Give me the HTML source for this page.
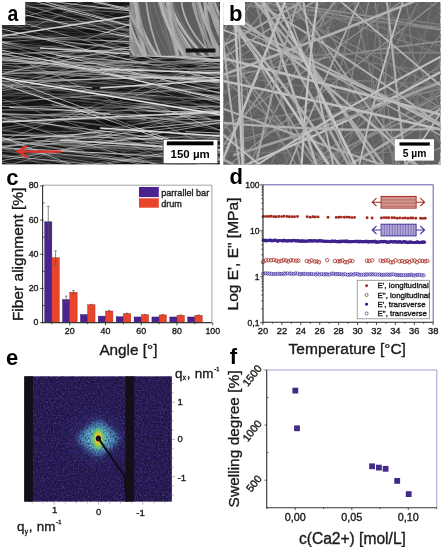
<!DOCTYPE html>
<html><head><meta charset="utf-8"><style>
html,body{margin:0;padding:0;background:#fff;width:443px;height:547px;overflow:hidden}
svg{display:block;position:absolute;left:0;top:0;will-change:transform}
text{font-family:"Liberation Sans",sans-serif}
text:not([font-weight]){stroke:#1a1a1a;stroke-width:0.35px}
</style></head><body>
<svg width="443" height="547" viewBox="0 0 443 547" font-family="Liberation Sans, sans-serif"><defs>
<clipPath id="cA"><rect x="2" y="2" width="218" height="162.6"/></clipPath>
<clipPath id="cI"><rect x="129.3" y="2" width="90.3" height="53.8"/></clipPath>
<clipPath id="cB"><rect x="223.2" y="2" width="217.4" height="162.8"/></clipPath>
<clipPath id="cE"><rect x="24.2" y="376.2" width="147.7" height="125.5"/></clipPath>
<filter id="soft" x="-0.05" y="-0.05" width="1.1" height="1.1"><feGaussianBlur stdDeviation="0.3"/></filter>
<filter id="soft2" x="-0.05" y="-0.05" width="1.1" height="1.1"><feGaussianBlur stdDeviation="0.6"/></filter>
<filter id="blur2" x="-0.5" y="-0.5" width="2" height="2"><feGaussianBlur stdDeviation="2.2"/></filter>
<filter id="blur1" x="-0.5" y="-0.5" width="2" height="2"><feGaussianBlur stdDeviation="1"/></filter>
<filter id="nz1" x="0" y="0" width="1" height="1" filterUnits="objectBoundingBox" color-interpolation-filters="sRGB">
<feTurbulence type="fractalNoise" baseFrequency="0.6" numOctaves="1" seed="3" result="n"/>
<feColorMatrix in="n" type="matrix" values="0 0 0 0 0.32  0 0 0 0 0.18  0 0 0 0 0.56  2.6 0 0 0 -1.15"/>
</filter>
<filter id="nz2" x="0" y="0" width="1" height="1" filterUnits="objectBoundingBox" color-interpolation-filters="sRGB">
<feTurbulence type="fractalNoise" baseFrequency="0.6" numOctaves="1" seed="17" result="n"/>
<feColorMatrix in="n" type="matrix" values="0 0 0 0 0.26  0 0 0 0 0.32  0 0 0 0 0.58  2.6 0 0 0 -1.5"/>
</filter>
<filter id="nz3" x="0" y="0" width="1" height="1" filterUnits="objectBoundingBox" color-interpolation-filters="sRGB">
<feTurbulence type="fractalNoise" baseFrequency="0.6" numOctaves="1" seed="29" result="n"/>
<feColorMatrix in="n" type="matrix" values="0 0 0 0 0.07  0 0 0 0 0.05  0 0 0 0 0.16  2.6 0 0 0 -1.05"/>
</filter>
<radialGradient id="halo" cx="0.5" cy="0.5" r="0.5">
<stop offset="0" stop-color="#80d4e0" stop-opacity="1"/>
<stop offset="0.45" stop-color="#66bcd8" stop-opacity="0.95"/>
<stop offset="0.8" stop-color="#4a8ac8" stop-opacity="0.7"/>
<stop offset="1" stop-color="#3a4aa0" stop-opacity="0.1"/>
</radialGradient>
<radialGradient id="glow" cx="0.5" cy="0.5" r="0.5">
<stop offset="0" stop-color="#4a6ab8" stop-opacity="0.55"/>
<stop offset="1" stop-color="#3a3a90" stop-opacity="0"/>
</radialGradient>
<radialGradient id="core" cx="0.5" cy="0.5" r="0.5">
<stop offset="0" stop-color="#e8e030"/>
<stop offset="0.45" stop-color="#a8d838"/>
<stop offset="0.75" stop-color="#58c070"/>
<stop offset="1" stop-color="#50b8b0" stop-opacity="0"/>
</radialGradient>
</defs>
<rect x="0" y="0" width="443" height="547" fill="#fff"/>
<g clip-path="url(#cA)">
<rect x="2" y="2" width="218" height="162.6" fill="#161616"/>
<g fill="none" filter="url(#soft2)"><path d="M73.3 24.1Q138.6 25.0 203.9 25.6" stroke="rgb(114,114,114)" stroke-width="1.04" stroke-opacity="0.59"/><path d="M36.8 35.7Q102.6 39.7 168.5 46.7" stroke="rgb(115,115,115)" stroke-width="1.06" stroke-opacity="0.82"/><path d="M-5.0 39.7Q110.0 65.9 225.0 90.3" stroke="rgb(118,118,118)" stroke-width="0.56" stroke-opacity="0.74"/><path d="M-5.0 83.8Q110.0 87.6 225.0 87.3" stroke="rgb(117,117,117)" stroke-width="0.88" stroke-opacity="0.62"/><path d="M75.7 124.8Q122.7 141.5 169.6 155.0" stroke="rgb(93,93,93)" stroke-width="0.61" stroke-opacity="0.62"/><path d="M-5.0 -20.3Q110.0 -14.3 225.0 -6.8" stroke="rgb(85,85,85)" stroke-width="0.87" stroke-opacity="0.69"/><path d="M-5.0 194.4Q110.0 193.7 225.0 194.9" stroke="rgb(85,85,85)" stroke-width="0.75" stroke-opacity="0.80"/><path d="M39.6 81.8Q96.1 62.6 152.6 46.7" stroke="rgb(103,103,103)" stroke-width="0.67" stroke-opacity="0.63"/><path d="M-5.0 73.3Q110.0 85.1 225.0 92.4" stroke="rgb(119,119,119)" stroke-width="1.17" stroke-opacity="0.79"/><path d="M178.9 11.3Q227.1 20.8 275.3 30.8" stroke="rgb(114,114,114)" stroke-width="0.71" stroke-opacity="0.58"/><path d="M-5.0 0.7Q110.0 1.4 225.0 5.4" stroke="rgb(88,88,88)" stroke-width="0.51" stroke-opacity="0.52"/><path d="M-5.0 146.3Q110.0 149.0 225.0 156.1" stroke="rgb(93,93,93)" stroke-width="0.65" stroke-opacity="0.52"/><path d="M90.7 -17.6Q117.5 -23.4 144.3 -32.0" stroke="rgb(124,124,124)" stroke-width="0.59" stroke-opacity="0.71"/><path d="M75.1 62.7Q89.7 64.5 104.3 63.0" stroke="rgb(93,93,93)" stroke-width="0.67" stroke-opacity="0.86"/><path d="M42.3 86.5Q66.7 86.4 91.2 90.9" stroke="rgb(82,82,82)" stroke-width="1.11" stroke-opacity="0.56"/><path d="M170.7 259.1Q220.8 279.9 270.9 304.9" stroke="rgb(113,113,113)" stroke-width="1.02" stroke-opacity="0.70"/><path d="M-5.0 17.5Q110.0 60.7 225.0 102.5" stroke="rgb(88,88,88)" stroke-width="0.96" stroke-opacity="0.82"/><path d="M-5.0 153.3Q110.0 169.0 225.0 188.8" stroke="rgb(84,84,84)" stroke-width="1.15" stroke-opacity="0.88"/><path d="M170.3 217.6Q190.1 219.2 210.0 224.1" stroke="rgb(123,123,123)" stroke-width="0.97" stroke-opacity="0.52"/><path d="M-5.0 112.9Q110.0 137.2 225.0 166.4" stroke="rgb(82,82,82)" stroke-width="0.50" stroke-opacity="0.87"/><path d="M-5.0 167.2Q110.0 180.6 225.0 192.2" stroke="rgb(100,100,100)" stroke-width="1.12" stroke-opacity="0.58"/><path d="M97.6 70.7Q111.7 76.1 125.7 77.8" stroke="rgb(71,71,71)" stroke-width="0.92" stroke-opacity="0.70"/><path d="M144.7 93.4Q187.2 87.5 229.8 85.8" stroke="rgb(70,70,70)" stroke-width="1.09" stroke-opacity="0.83"/><path d="M89.9 98.9Q158.0 105.6 226.0 108.4" stroke="rgb(75,75,75)" stroke-width="0.58" stroke-opacity="0.75"/><path d="M-5.0 85.3Q110.0 81.4 225.0 80.5" stroke="rgb(112,112,112)" stroke-width="0.55" stroke-opacity="0.85"/><path d="M-5.0 38.0Q110.0 32.0 225.0 29.4" stroke="rgb(79,79,79)" stroke-width="1.11" stroke-opacity="0.57"/><path d="M-5.0 81.2Q110.0 66.1 225.0 51.1" stroke="rgb(70,70,70)" stroke-width="0.72" stroke-opacity="0.72"/><path d="M42.9 131.2Q104.1 132.0 165.3 131.6" stroke="rgb(89,89,89)" stroke-width="1.04" stroke-opacity="0.89"/><path d="M-5.0 122.3Q110.0 109.4 225.0 92.9" stroke="rgb(95,95,95)" stroke-width="1.14" stroke-opacity="0.62"/><path d="M145.4 143.8Q178.7 141.3 212.0 142.4" stroke="rgb(106,106,106)" stroke-width="0.59" stroke-opacity="0.53"/><path d="M63.3 160.3Q111.5 164.6 159.7 172.1" stroke="rgb(75,75,75)" stroke-width="0.78" stroke-opacity="0.87"/><path d="M-0.5 117.2Q13.2 118.8 26.8 117.3" stroke="rgb(122,122,122)" stroke-width="1.08" stroke-opacity="0.82"/><path d="M177.9 178.0Q234.1 176.8 290.3 173.9" stroke="rgb(123,123,123)" stroke-width="0.58" stroke-opacity="0.76"/><path d="M175.9 193.2Q211.8 203.3 247.6 215.2" stroke="rgb(102,102,102)" stroke-width="1.13" stroke-opacity="0.78"/><path d="M-5.0 21.8Q110.0 21.4 225.0 22.0" stroke="rgb(124,124,124)" stroke-width="1.13" stroke-opacity="0.66"/><path d="M100.3 158.2Q152.7 160.9 205.1 162.4" stroke="rgb(103,103,103)" stroke-width="0.76" stroke-opacity="0.88"/><path d="M-5.0 5.1Q110.0 11.1 225.0 18.9" stroke="rgb(124,124,124)" stroke-width="1.14" stroke-opacity="0.74"/><path d="M-5.0 -9.4Q110.0 -0.4 225.0 10.7" stroke="rgb(112,112,112)" stroke-width="0.60" stroke-opacity="0.60"/><path d="M-5.0 183.3Q110.0 211.4 225.0 241.9" stroke="rgb(107,107,107)" stroke-width="0.88" stroke-opacity="0.88"/><path d="M18.7 89.7Q34.8 91.8 50.8 91.9" stroke="rgb(124,124,124)" stroke-width="0.70" stroke-opacity="0.86"/><path d="M-5.0 134.5Q110.0 183.9 225.0 231.1" stroke="rgb(109,109,109)" stroke-width="0.89" stroke-opacity="0.78"/><path d="M-5.0 94.3Q110.0 65.9 225.0 33.7" stroke="rgb(96,96,96)" stroke-width="0.55" stroke-opacity="0.57"/><path d="M-5.0 27.6Q110.0 34.7 225.0 42.6" stroke="rgb(117,117,117)" stroke-width="0.73" stroke-opacity="0.65"/><path d="M-5.0 -23.7Q110.0 -66.5 225.0 -112.5" stroke="rgb(78,78,78)" stroke-width="0.61" stroke-opacity="0.84"/><path d="M-5.0 22.2Q110.0 24.0 225.0 23.8" stroke="rgb(80,80,80)" stroke-width="1.08" stroke-opacity="0.90"/><path d="M-5.0 177.3Q110.0 169.5 225.0 160.5" stroke="rgb(115,115,115)" stroke-width="0.91" stroke-opacity="0.54"/><path d="M-5.0 175.1Q110.0 170.0 225.0 161.3" stroke="rgb(72,72,72)" stroke-width="0.94" stroke-opacity="0.60"/><path d="M-5.0 118.9Q110.0 109.8 225.0 96.8" stroke="rgb(104,104,104)" stroke-width="0.74" stroke-opacity="0.83"/><path d="M-5.0 171.0Q110.0 188.3 225.0 207.2" stroke="rgb(103,103,103)" stroke-width="0.87" stroke-opacity="0.89"/><path d="M111.6 -8.8Q138.5 -6.1 165.3 -7.5" stroke="rgb(81,81,81)" stroke-width="0.55" stroke-opacity="0.81"/><path d="M-4.8 126.8Q56.2 141.2 117.2 153.4" stroke="rgb(104,104,104)" stroke-width="0.94" stroke-opacity="0.51"/><path d="M65.2 -20.2Q128.9 -18.8 192.5 -16.3" stroke="rgb(111,111,111)" stroke-width="1.07" stroke-opacity="0.62"/><path d="M-5.0 106.1Q110.0 90.2 225.0 71.4" stroke="rgb(117,117,117)" stroke-width="0.71" stroke-opacity="0.78"/><path d="M-1.5 129.2Q62.0 140.0 125.5 151.8" stroke="rgb(121,121,121)" stroke-width="0.69" stroke-opacity="0.80"/><path d="M-5.0 111.2Q110.0 96.1 225.0 83.3" stroke="rgb(84,84,84)" stroke-width="0.86" stroke-opacity="0.51"/><path d="M-5.0 34.6Q110.0 0.1 225.0 -30.4" stroke="rgb(74,74,74)" stroke-width="1.19" stroke-opacity="0.57"/><path d="M-5.0 17.6Q110.0 36.5 225.0 55.8" stroke="rgb(97,97,97)" stroke-width="0.58" stroke-opacity="0.64"/><path d="M184.4 203.9Q214.0 203.5 243.5 207.4" stroke="rgb(101,101,101)" stroke-width="0.96" stroke-opacity="0.86"/><path d="M-5.0 160.5Q110.0 184.8 225.0 212.0" stroke="rgb(71,71,71)" stroke-width="1.04" stroke-opacity="0.57"/><path d="M-5.0 -22.2Q110.0 -31.1 225.0 -37.1" stroke="rgb(90,90,90)" stroke-width="1.19" stroke-opacity="0.57"/><path d="M-5.0 185.1Q110.0 206.6 225.0 226.3" stroke="rgb(73,73,73)" stroke-width="1.13" stroke-opacity="0.78"/><path d="M21.9 167.2Q61.9 179.6 101.9 189.5" stroke="rgb(100,100,100)" stroke-width="0.88" stroke-opacity="0.64"/><path d="M37.8 142.9Q64.0 132.5 90.2 123.6" stroke="rgb(101,101,101)" stroke-width="0.64" stroke-opacity="0.75"/><path d="M62.9 79.8Q131.8 109.8 200.8 136.6" stroke="rgb(81,81,81)" stroke-width="0.52" stroke-opacity="0.58"/><path d="M54.7 136.0Q108.6 137.1 162.4 138.6" stroke="rgb(91,91,91)" stroke-width="0.60" stroke-opacity="0.65"/><path d="M-5.0 50.1Q110.0 56.7 225.0 65.4" stroke="rgb(110,110,110)" stroke-width="0.79" stroke-opacity="0.55"/><path d="M-5.0 95.6Q110.0 97.4 225.0 98.2" stroke="rgb(98,98,98)" stroke-width="0.63" stroke-opacity="0.75"/><path d="M151.1 45.2Q171.5 37.0 192.0 29.5" stroke="rgb(72,72,72)" stroke-width="0.63" stroke-opacity="0.61"/><path d="M126.8 7.9Q170.6 -3.9 214.4 -14.0" stroke="rgb(122,122,122)" stroke-width="1.16" stroke-opacity="0.60"/><path d="M-5.0 91.0Q110.0 83.2 225.0 71.6" stroke="rgb(80,80,80)" stroke-width="0.83" stroke-opacity="0.55"/><path d="M-5.0 104.0Q110.0 74.5 225.0 41.3" stroke="rgb(102,102,102)" stroke-width="0.54" stroke-opacity="0.83"/><path d="M-5.0 -11.9Q110.0 18.6 225.0 49.3" stroke="rgb(99,99,99)" stroke-width="0.68" stroke-opacity="0.52"/><path d="M50.1 168.6Q102.3 171.8 154.5 175.8" stroke="rgb(122,122,122)" stroke-width="1.12" stroke-opacity="0.62"/><path d="M-5.0 -29.4Q110.0 7.8 225.0 45.8" stroke="rgb(73,73,73)" stroke-width="0.80" stroke-opacity="0.53"/><path d="M-5.0 175.4Q110.0 198.3 225.0 216.2" stroke="rgb(81,81,81)" stroke-width="1.14" stroke-opacity="0.87"/><path d="M95.9 -40.5Q132.8 -44.6 169.7 -49.9" stroke="rgb(75,75,75)" stroke-width="0.95" stroke-opacity="0.77"/><path d="M80.1 100.5Q100.4 103.5 120.7 108.0" stroke="rgb(75,75,75)" stroke-width="1.03" stroke-opacity="0.63"/><path d="M-5.0 32.3Q110.0 -0.3 225.0 -35.5" stroke="rgb(73,73,73)" stroke-width="1.17" stroke-opacity="0.56"/><path d="M-5.0 92.7Q110.0 96.2 225.0 98.4" stroke="rgb(98,98,98)" stroke-width="0.88" stroke-opacity="0.60"/><path d="M-5.0 8.4Q110.0 21.9 225.0 38.4" stroke="rgb(99,99,99)" stroke-width="0.91" stroke-opacity="0.73"/><path d="M-5.0 185.5Q110.0 209.2 225.0 234.8" stroke="rgb(94,94,94)" stroke-width="0.73" stroke-opacity="0.62"/><path d="M66.9 43.1Q117.5 46.2 168.2 51.0" stroke="rgb(87,87,87)" stroke-width="1.10" stroke-opacity="0.82"/><path d="M189.0 187.0Q203.4 189.9 217.8 191.3" stroke="rgb(70,70,70)" stroke-width="1.11" stroke-opacity="0.50"/><path d="M42.2 97.8Q80.0 101.5 117.9 102.3" stroke="rgb(110,110,110)" stroke-width="0.70" stroke-opacity="0.54"/><path d="M188.7 47.4Q226.2 57.4 263.7 69.0" stroke="rgb(110,110,110)" stroke-width="0.89" stroke-opacity="0.89"/><path d="M143.1 -11.1Q188.5 -28.3 233.9 -47.8" stroke="rgb(96,96,96)" stroke-width="1.16" stroke-opacity="0.67"/><path d="M50.8 58.7Q70.5 60.7 90.3 58.9" stroke="rgb(95,95,95)" stroke-width="1.02" stroke-opacity="0.80"/><path d="M173.2 105.6Q191.6 113.9 210.0 118.9" stroke="rgb(120,120,120)" stroke-width="1.12" stroke-opacity="0.89"/><path d="M-5.0 129.9Q110.0 142.6 225.0 151.0" stroke="rgb(118,118,118)" stroke-width="0.90" stroke-opacity="0.75"/><path d="M-5.0 34.1Q110.0 60.5 225.0 87.1" stroke="rgb(107,107,107)" stroke-width="0.67" stroke-opacity="0.57"/><path d="M76.5 174.9Q137.5 181.5 198.6 186.1" stroke="rgb(76,76,76)" stroke-width="1.11" stroke-opacity="0.50"/><path d="M65.2 145.2Q92.9 149.0 120.7 147.9" stroke="rgb(109,109,109)" stroke-width="0.89" stroke-opacity="0.76"/><path d="M-5.0 144.0Q110.0 195.5 225.0 244.4" stroke="rgb(110,110,110)" stroke-width="0.74" stroke-opacity="0.70"/><path d="M-5.0 147.0Q110.0 174.1 225.0 199.6" stroke="rgb(83,83,83)" stroke-width="0.94" stroke-opacity="0.57"/><path d="M-5.0 9.6Q110.0 9.1 225.0 5.4" stroke="rgb(117,117,117)" stroke-width="0.71" stroke-opacity="0.52"/><path d="M48.4 150.0Q64.2 152.6 79.9 153.8" stroke="rgb(73,73,73)" stroke-width="0.81" stroke-opacity="0.79"/><path d="M-5.0 20.6Q110.0 -17.6 225.0 -58.8" stroke="rgb(79,79,79)" stroke-width="0.50" stroke-opacity="0.58"/><path d="M63.1 12.6Q108.6 7.3 154.1 3.5" stroke="rgb(101,101,101)" stroke-width="1.00" stroke-opacity="0.87"/><path d="M-5.0 112.9Q110.0 118.3 225.0 124.9" stroke="rgb(88,88,88)" stroke-width="1.00" stroke-opacity="0.85"/><path d="M70.5 23.5Q87.1 26.7 103.6 26.5" stroke="rgb(116,116,116)" stroke-width="0.95" stroke-opacity="0.85"/><path d="M154.7 164.5Q219.9 177.1 285.2 190.1" stroke="rgb(75,75,75)" stroke-width="0.60" stroke-opacity="0.57"/><path d="M105.3 200.7Q132.0 209.0 158.7 218.3" stroke="rgb(105,105,105)" stroke-width="0.69" stroke-opacity="0.50"/><path d="M-5.0 96.8Q110.0 81.7 225.0 62.3" stroke="rgb(114,114,114)" stroke-width="0.61" stroke-opacity="0.81"/><path d="M121.9 178.4Q169.7 173.2 217.4 172.3" stroke="rgb(80,80,80)" stroke-width="1.12" stroke-opacity="0.72"/><path d="M49.3 39.7Q109.4 41.0 169.5 41.5" stroke="rgb(112,112,112)" stroke-width="0.63" stroke-opacity="0.82"/><path d="M111.8 -15.7Q133.6 -23.4 155.5 -33.1" stroke="rgb(97,97,97)" stroke-width="1.12" stroke-opacity="0.64"/><path d="M144.1 77.1Q175.8 90.6 207.5 104.4" stroke="rgb(71,71,71)" stroke-width="0.65" stroke-opacity="0.79"/><path d="M66.2 93.6Q108.3 98.2 150.3 98.8" stroke="rgb(115,115,115)" stroke-width="0.81" stroke-opacity="0.63"/><path d="M45.7 139.7Q64.7 147.2 83.6 150.5" stroke="rgb(106,106,106)" stroke-width="1.02" stroke-opacity="0.86"/><path d="M101.4 92.7Q148.5 95.3 195.6 101.1" stroke="rgb(103,103,103)" stroke-width="0.61" stroke-opacity="0.70"/><path d="M117.2 61.8Q152.7 62.4 188.1 64.9" stroke="rgb(79,79,79)" stroke-width="0.83" stroke-opacity="0.77"/><path d="M-5.0 31.2Q110.0 37.9 225.0 41.4" stroke="rgb(73,73,73)" stroke-width="1.12" stroke-opacity="0.58"/><path d="M146.3 -17.8Q203.2 -16.5 260.0 -14.4" stroke="rgb(76,76,76)" stroke-width="0.54" stroke-opacity="0.79"/><path d="M20.1 53.3Q59.7 54.4 99.3 51.3" stroke="rgb(124,124,124)" stroke-width="1.04" stroke-opacity="0.79"/><path d="M-5.0 70.0Q110.0 86.5 225.0 101.8" stroke="rgb(75,75,75)" stroke-width="1.04" stroke-opacity="0.56"/><path d="M-5.0 85.6Q110.0 44.8 225.0 6.2" stroke="rgb(115,115,115)" stroke-width="0.53" stroke-opacity="0.77"/><path d="M92.4 98.4Q161.3 70.3 230.2 43.1" stroke="rgb(120,120,120)" stroke-width="0.52" stroke-opacity="0.55"/><path d="M-5.0 150.9Q110.0 158.0 225.0 167.5" stroke="rgb(115,115,115)" stroke-width="1.11" stroke-opacity="0.75"/><path d="M-0.7 137.0Q31.4 150.2 63.6 162.4" stroke="rgb(84,84,84)" stroke-width="0.77" stroke-opacity="0.52"/><path d="M162.8 90.5Q191.2 96.0 219.6 98.7" stroke="rgb(119,119,119)" stroke-width="0.59" stroke-opacity="0.66"/><path d="M-5.0 87.3Q110.0 100.2 225.0 115.1" stroke="rgb(79,79,79)" stroke-width="1.10" stroke-opacity="0.71"/><path d="M121.6 47.3Q183.5 47.6 245.4 46.0" stroke="rgb(108,108,108)" stroke-width="0.71" stroke-opacity="0.77"/><path d="M142.5 171.8Q174.3 173.0 206.0 170.7" stroke="rgb(87,87,87)" stroke-width="0.93" stroke-opacity="0.65"/><path d="M-5.0 48.1Q110.0 44.4 225.0 39.2" stroke="rgb(121,121,121)" stroke-width="0.80" stroke-opacity="0.68"/><path d="M-5.0 83.6Q110.0 79.2 225.0 70.9" stroke="rgb(119,119,119)" stroke-width="1.05" stroke-opacity="0.80"/><path d="M91.5 6.1Q113.1 0.8 134.7 -3.5" stroke="rgb(84,84,84)" stroke-width="0.92" stroke-opacity="0.56"/><path d="M86.3 22.3Q108.1 15.3 129.9 7.8" stroke="rgb(89,89,89)" stroke-width="0.75" stroke-opacity="0.64"/><path d="M113.8 92.5Q154.2 93.4 194.6 90.7" stroke="rgb(76,76,76)" stroke-width="0.96" stroke-opacity="0.66"/><path d="M-5.0 -0.3Q110.0 -14.1 225.0 -32.2" stroke="rgb(114,114,114)" stroke-width="0.95" stroke-opacity="0.73"/><path d="M-5.0 20.9Q110.0 18.3 225.0 15.4" stroke="rgb(77,77,77)" stroke-width="0.52" stroke-opacity="0.56"/><path d="M-5.0 24.1Q110.0 -4.5 225.0 -36.4" stroke="rgb(119,119,119)" stroke-width="0.99" stroke-opacity="0.87"/><path d="M137.1 160.0Q191.6 160.1 246.1 157.7" stroke="rgb(81,81,81)" stroke-width="0.62" stroke-opacity="0.53"/><path d="M21.9 156.4Q91.3 158.0 160.7 163.0" stroke="rgb(73,73,73)" stroke-width="0.90" stroke-opacity="0.85"/><path d="M170.0 122.0Q211.2 122.4 252.5 121.2" stroke="rgb(124,124,124)" stroke-width="0.92" stroke-opacity="0.88"/><path d="M-5.0 -17.0Q110.0 -20.4 225.0 -22.5" stroke="rgb(106,106,106)" stroke-width="1.05" stroke-opacity="0.84"/><path d="M176.3 65.6Q220.8 50.2 265.3 34.7" stroke="rgb(113,113,113)" stroke-width="0.55" stroke-opacity="0.67"/><path d="M96.1 96.8Q147.3 99.5 198.6 98.6" stroke="rgb(101,101,101)" stroke-width="0.78" stroke-opacity="0.61"/><path d="M-5.0 49.7Q110.0 32.9 225.0 12.3" stroke="rgb(81,81,81)" stroke-width="0.79" stroke-opacity="0.65"/><path d="M30.1 136.7Q49.3 135.7 68.5 138.9" stroke="rgb(109,109,109)" stroke-width="0.96" stroke-opacity="0.82"/><path d="M39.8 87.0Q65.5 90.4 91.2 97.2" stroke="rgb(100,100,100)" stroke-width="0.61" stroke-opacity="0.82"/><path d="M147.8 4.2Q192.6 -5.5 237.5 -11.0" stroke="rgb(114,114,114)" stroke-width="1.11" stroke-opacity="0.89"/><path d="M175.9 60.6Q192.5 60.8 209.0 61.0" stroke="rgb(94,94,94)" stroke-width="0.94" stroke-opacity="0.81"/><path d="M32.5 180.9Q55.9 186.1 79.3 191.5" stroke="rgb(96,96,96)" stroke-width="1.01" stroke-opacity="0.58"/><path d="M-5.0 67.4Q110.0 68.0 225.0 72.1" stroke="rgb(82,82,82)" stroke-width="1.13" stroke-opacity="0.51"/><path d="M-5.0 112.8Q110.0 118.8 225.0 123.9" stroke="rgb(89,89,89)" stroke-width="0.96" stroke-opacity="0.66"/><path d="M-5.0 130.7Q110.0 136.4 225.0 145.4" stroke="rgb(73,73,73)" stroke-width="0.80" stroke-opacity="0.57"/><path d="M-5.0 76.3Q110.0 41.7 225.0 9.9" stroke="rgb(116,116,116)" stroke-width="1.18" stroke-opacity="0.80"/><path d="M-5.0 131.4Q110.0 112.4 225.0 94.4" stroke="rgb(88,88,88)" stroke-width="1.09" stroke-opacity="0.85"/><path d="M165.9 -44.2Q192.1 -52.5 218.2 -57.8" stroke="rgb(84,84,84)" stroke-width="0.77" stroke-opacity="0.79"/><path d="M140.6 25.0Q189.8 18.5 239.1 14.1" stroke="rgb(102,102,102)" stroke-width="1.13" stroke-opacity="0.51"/><path d="M-5.0 112.8Q110.0 125.7 225.0 139.1" stroke="rgb(110,110,110)" stroke-width="0.97" stroke-opacity="0.88"/><path d="M-5.0 45.9Q110.0 51.7 225.0 55.8" stroke="rgb(115,115,115)" stroke-width="0.94" stroke-opacity="0.82"/><path d="M20.2 147.6Q67.6 151.1 115.0 157.5" stroke="rgb(82,82,82)" stroke-width="0.75" stroke-opacity="0.72"/><path d="M156.4 15.4Q182.9 15.5 209.4 13.2" stroke="rgb(84,84,84)" stroke-width="0.59" stroke-opacity="0.74"/><path d="M13.3 4.9Q71.1 -18.8 128.8 -40.6" stroke="rgb(74,74,74)" stroke-width="1.01" stroke-opacity="0.58"/><path d="M-5.0 -7.6Q110.0 -16.4 225.0 -26.0" stroke="rgb(108,108,108)" stroke-width="0.89" stroke-opacity="0.68"/><path d="M189.7 60.3Q241.8 48.2 293.8 38.9" stroke="rgb(104,104,104)" stroke-width="0.83" stroke-opacity="0.51"/><path d="M5.9 150.2Q22.2 150.1 38.5 149.3" stroke="rgb(109,109,109)" stroke-width="0.67" stroke-opacity="0.70"/><path d="M142.3 139.7Q193.0 141.1 243.8 138.7" stroke="rgb(96,96,96)" stroke-width="0.95" stroke-opacity="0.81"/><path d="M-5.0 89.2Q110.0 105.0 225.0 121.9" stroke="rgb(94,94,94)" stroke-width="0.99" stroke-opacity="0.59"/><path d="M14.4 64.0Q48.1 77.8 81.9 93.2" stroke="rgb(117,117,117)" stroke-width="1.20" stroke-opacity="0.52"/><path d="M184.9 92.9Q239.5 98.3 294.2 101.9" stroke="rgb(119,119,119)" stroke-width="1.07" stroke-opacity="0.89"/><path d="M-5.0 145.6Q110.0 165.7 225.0 185.7" stroke="rgb(122,122,122)" stroke-width="1.13" stroke-opacity="0.77"/><path d="M-5.0 63.9Q110.0 78.9 225.0 97.8" stroke="rgb(106,106,106)" stroke-width="1.06" stroke-opacity="0.77"/><path d="M94.9 89.3Q158.8 100.7 222.6 112.9" stroke="rgb(99,99,99)" stroke-width="0.99" stroke-opacity="0.64"/><path d="M-5.0 142.5Q110.0 146.0 225.0 148.5" stroke="rgb(116,116,116)" stroke-width="1.20" stroke-opacity="0.71"/><path d="M20.8 202.5Q80.9 224.5 140.9 243.5" stroke="rgb(75,75,75)" stroke-width="1.00" stroke-opacity="0.62"/><path d="M189.8 116.1Q234.3 114.9 278.8 117.0" stroke="rgb(122,122,122)" stroke-width="0.58" stroke-opacity="0.51"/><path d="M162.0 -5.9Q192.0 -14.1 222.0 -23.1" stroke="rgb(86,86,86)" stroke-width="0.65" stroke-opacity="0.52"/><path d="M-5.0 96.4Q110.0 92.4 225.0 86.5" stroke="rgb(83,83,83)" stroke-width="0.66" stroke-opacity="0.85"/><path d="M69.0 141.5Q120.6 143.2 172.2 142.9" stroke="rgb(122,122,122)" stroke-width="0.84" stroke-opacity="0.68"/><path d="M160.3 117.2Q192.6 125.6 224.8 131.1" stroke="rgb(118,118,118)" stroke-width="1.07" stroke-opacity="0.59"/><path d="M-5.0 -20.5Q110.0 11.6 225.0 39.7" stroke="rgb(85,85,85)" stroke-width="0.75" stroke-opacity="0.57"/><path d="M178.7 106.4Q245.0 106.7 311.3 108.8" stroke="rgb(110,110,110)" stroke-width="0.96" stroke-opacity="0.86"/><path d="M-5.0 41.9Q110.0 63.0 225.0 81.3" stroke="rgb(109,109,109)" stroke-width="0.78" stroke-opacity="0.55"/><path d="M-5.0 165.8Q110.0 151.5 225.0 137.4" stroke="rgb(80,80,80)" stroke-width="0.64" stroke-opacity="0.73"/><path d="M-5.0 140.9Q110.0 148.9 225.0 158.2" stroke="rgb(85,85,85)" stroke-width="0.85" stroke-opacity="0.51"/><path d="M163.8 44.9Q229.2 29.6 294.7 14.7" stroke="rgb(97,97,97)" stroke-width="0.86" stroke-opacity="0.85"/><path d="M7.8 72.1Q47.0 73.6 86.1 76.4" stroke="rgb(112,112,112)" stroke-width="1.11" stroke-opacity="0.55"/><path d="M158.8 145.2Q188.3 140.5 217.8 137.8" stroke="rgb(106,106,106)" stroke-width="1.15" stroke-opacity="0.60"/><path d="M107.4 111.9Q144.7 118.1 182.0 121.1" stroke="rgb(110,110,110)" stroke-width="0.97" stroke-opacity="0.73"/><path d="M-5.0 2.2Q110.0 8.7 225.0 11.6" stroke="rgb(116,116,116)" stroke-width="1.13" stroke-opacity="0.66"/><path d="M-5.0 180.2Q110.0 217.1 225.0 253.7" stroke="rgb(70,70,70)" stroke-width="0.73" stroke-opacity="0.60"/><path d="M-5.0 96.7Q110.0 77.1 225.0 57.0" stroke="rgb(78,78,78)" stroke-width="1.05" stroke-opacity="0.63"/><path d="M123.7 122.5Q151.1 123.8 178.6 128.3" stroke="rgb(75,75,75)" stroke-width="0.92" stroke-opacity="0.60"/><path d="M18.0 24.2Q43.1 25.8 68.2 24.3" stroke="rgb(103,103,103)" stroke-width="0.78" stroke-opacity="0.57"/><path d="M88.4 108.0Q116.1 110.6 143.9 116.9" stroke="rgb(116,116,116)" stroke-width="1.05" stroke-opacity="0.53"/><path d="M22.1 118.0Q61.5 113.3 101.0 107.9" stroke="rgb(101,101,101)" stroke-width="1.15" stroke-opacity="0.74"/><path d="M-5.0 -21.4Q110.0 -11.3 225.0 -3.5" stroke="rgb(87,87,87)" stroke-width="1.16" stroke-opacity="0.78"/><path d="M-5.0 190.0Q110.0 155.0 225.0 124.4" stroke="rgb(99,99,99)" stroke-width="0.92" stroke-opacity="0.51"/><path d="M-5.0 149.1Q110.0 153.4 225.0 156.7" stroke="rgb(122,122,122)" stroke-width="0.88" stroke-opacity="0.74"/><path d="M76.1 128.0Q111.1 145.0 146.2 159.7" stroke="rgb(74,74,74)" stroke-width="0.61" stroke-opacity="0.57"/><path d="M189.9 97.0Q216.8 108.4 243.6 120.8" stroke="rgb(89,89,89)" stroke-width="0.60" stroke-opacity="0.56"/><path d="M9.8 141.2Q41.3 135.6 72.8 128.4" stroke="rgb(100,100,100)" stroke-width="0.50" stroke-opacity="0.54"/><path d="M-5.0 22.5Q110.0 29.2 225.0 37.5" stroke="rgb(72,72,72)" stroke-width="1.10" stroke-opacity="0.69"/><path d="M57.6 15.1Q80.4 15.8 103.2 13.2" stroke="rgb(86,86,86)" stroke-width="0.68" stroke-opacity="0.80"/><path d="M179.1 148.1Q218.1 148.7 257.2 149.7" stroke="rgb(101,101,101)" stroke-width="0.54" stroke-opacity="0.81"/><path d="M80.0 25.4Q112.0 27.3 144.0 30.4" stroke="rgb(79,79,79)" stroke-width="1.08" stroke-opacity="0.71"/><path d="M64.5 120.6Q104.7 126.4 144.9 131.1" stroke="rgb(117,117,117)" stroke-width="0.81" stroke-opacity="0.66"/><path d="M9.4 144.4Q24.8 145.8 40.2 144.9" stroke="rgb(91,91,91)" stroke-width="0.66" stroke-opacity="0.73"/><path d="M155.8 49.6Q200.2 41.4 244.7 37.5" stroke="rgb(81,81,81)" stroke-width="0.75" stroke-opacity="0.85"/><path d="M-5.0 162.1Q110.0 159.0 225.0 156.9" stroke="rgb(99,99,99)" stroke-width="0.59" stroke-opacity="0.61"/><path d="M108.2 141.6Q165.1 160.2 222.1 177.9" stroke="rgb(80,80,80)" stroke-width="1.07" stroke-opacity="0.60"/><path d="M45.8 98.8Q113.8 120.1 181.7 143.2" stroke="rgb(104,104,104)" stroke-width="1.13" stroke-opacity="0.59"/><path d="M81.7 104.2Q138.4 108.2 195.1 108.2" stroke="rgb(118,118,118)" stroke-width="0.56" stroke-opacity="0.66"/><path d="M76.5 114.6Q117.9 103.8 159.3 93.7" stroke="rgb(97,97,97)" stroke-width="0.56" stroke-opacity="0.82"/><path d="M108.5 -0.9Q122.2 -0.4 135.8 -4.2" stroke="rgb(120,120,120)" stroke-width="0.90" stroke-opacity="0.61"/><path d="M106.1 106.1Q156.5 108.7 207.0 110.9" stroke="rgb(122,122,122)" stroke-width="1.07" stroke-opacity="0.57"/><path d="M-5.0 -7.0Q110.0 -13.2 225.0 -14.8" stroke="rgb(73,73,73)" stroke-width="0.85" stroke-opacity="0.67"/><path d="M-5.0 118.4Q110.0 145.0 225.0 172.0" stroke="rgb(75,75,75)" stroke-width="0.95" stroke-opacity="0.73"/><path d="M118.6 153.5Q180.0 157.3 241.5 156.4" stroke="rgb(90,90,90)" stroke-width="0.94" stroke-opacity="0.56"/><path d="M10.7 189.0Q65.1 183.6 119.5 181.1" stroke="rgb(97,97,97)" stroke-width="0.74" stroke-opacity="0.52"/><path d="M120.3 140.7Q154.7 137.8 189.1 133.5" stroke="rgb(111,111,111)" stroke-width="1.01" stroke-opacity="0.51"/><path d="M-5.0 -23.9Q110.0 22.3 225.0 66.5" stroke="rgb(86,86,86)" stroke-width="1.15" stroke-opacity="0.57"/><path d="M-5.0 142.1Q110.0 145.8 225.0 152.8" stroke="rgb(79,79,79)" stroke-width="0.82" stroke-opacity="0.86"/><path d="M112.8 190.2Q133.8 196.2 154.7 201.8" stroke="rgb(85,85,85)" stroke-width="1.07" stroke-opacity="0.55"/><path d="M167.1 13.7Q217.0 21.8 267.0 28.0" stroke="rgb(105,105,105)" stroke-width="0.55" stroke-opacity="0.83"/><path d="M-5.0 56.5Q110.0 74.4 225.0 93.7" stroke="rgb(82,82,82)" stroke-width="1.05" stroke-opacity="0.73"/><path d="M70.6 61.2Q122.9 56.4 175.2 47.7" stroke="rgb(123,123,123)" stroke-width="0.63" stroke-opacity="0.72"/><path d="M132.7 100.3Q178.1 102.5 223.5 104.2" stroke="rgb(74,74,74)" stroke-width="0.57" stroke-opacity="0.62"/></g>
<g fill="none" filter="url(#soft)"><path d="M-5.0 68.9Q110.0 74.6 225.0 81.7" stroke="rgb(187,187,187)" stroke-width="0.73" stroke-opacity="0.88"/><path d="M107.5 163.3Q126.5 167.3 145.6 169.8" stroke="rgb(154,154,154)" stroke-width="0.82" stroke-opacity="0.82"/><path d="M-5.0 161.0Q110.0 182.3 225.0 206.7" stroke="rgb(180,180,180)" stroke-width="0.49" stroke-opacity="0.91"/><path d="M-5.0 -17.0Q110.0 4.8 225.0 26.7" stroke="rgb(160,160,160)" stroke-width="0.88" stroke-opacity="0.70"/><path d="M157.5 115.2Q207.6 111.4 257.7 110.8" stroke="rgb(233,233,233)" stroke-width="0.48" stroke-opacity="0.91"/><path d="M-5.0 42.7Q110.0 72.2 225.0 104.6" stroke="rgb(200,200,200)" stroke-width="0.77" stroke-opacity="0.84"/><path d="M-5.0 53.5Q110.0 70.0 225.0 82.4" stroke="rgb(150,150,150)" stroke-width="0.65" stroke-opacity="0.97"/><path d="M-5.0 -1.8Q110.0 42.9 225.0 87.1" stroke="rgb(171,171,171)" stroke-width="0.73" stroke-opacity="0.66"/><path d="M127.3 7.0Q159.9 11.7 192.5 14.2" stroke="rgb(234,234,234)" stroke-width="0.95" stroke-opacity="0.66"/><path d="M129.6 144.4Q188.4 150.6 247.2 152.3" stroke="rgb(244,244,244)" stroke-width="0.79" stroke-opacity="0.89"/><path d="M145.5 184.1Q188.0 183.4 230.5 186.2" stroke="rgb(158,158,158)" stroke-width="1.00" stroke-opacity="0.76"/><path d="M181.8 62.6Q212.0 67.5 242.2 68.2" stroke="rgb(212,212,212)" stroke-width="0.67" stroke-opacity="0.74"/><path d="M-5.0 134.7Q110.0 137.5 225.0 141.0" stroke="rgb(227,227,227)" stroke-width="0.97" stroke-opacity="0.77"/><path d="M-5.0 172.7Q110.0 168.0 225.0 166.5" stroke="rgb(201,201,201)" stroke-width="0.50" stroke-opacity="1.00"/><path d="M40.5 108.1Q76.6 112.8 112.8 118.6" stroke="rgb(154,154,154)" stroke-width="0.51" stroke-opacity="0.81"/><path d="M-5.0 -17.8Q110.0 -10.0 225.0 0.5" stroke="rgb(237,237,237)" stroke-width="0.99" stroke-opacity="0.79"/><path d="M-5.0 112.0Q110.0 136.0 225.0 164.0" stroke="rgb(171,171,171)" stroke-width="0.80" stroke-opacity="0.85"/><path d="M-5.0 134.6Q110.0 134.4 225.0 138.4" stroke="rgb(161,161,161)" stroke-width="0.58" stroke-opacity="0.87"/><path d="M131.5 22.8Q155.9 16.2 180.2 9.3" stroke="rgb(180,180,180)" stroke-width="0.76" stroke-opacity="0.94"/><path d="M169.4 152.8Q207.1 148.4 244.7 148.9" stroke="rgb(163,163,163)" stroke-width="0.79" stroke-opacity="0.78"/><path d="M-5.0 38.2Q110.0 36.6 225.0 36.1" stroke="rgb(154,154,154)" stroke-width="0.63" stroke-opacity="0.61"/><path d="M56.2 55.3Q116.6 60.1 177.1 67.3" stroke="rgb(240,240,240)" stroke-width="0.77" stroke-opacity="0.83"/><path d="M-5.0 184.1Q110.0 175.9 225.0 171.6" stroke="rgb(242,242,242)" stroke-width="0.81" stroke-opacity="0.65"/><path d="M146.9 110.9Q186.1 110.8 225.4 114.7" stroke="rgb(249,249,249)" stroke-width="0.73" stroke-opacity="0.74"/><path d="M-5.0 71.3Q110.0 75.8 225.0 77.9" stroke="rgb(197,197,197)" stroke-width="0.70" stroke-opacity="0.64"/><path d="M-5.0 42.5Q110.0 33.8 225.0 28.5" stroke="rgb(204,204,204)" stroke-width="0.56" stroke-opacity="0.87"/><path d="M-5.0 174.6Q110.0 225.2 225.0 278.6" stroke="rgb(185,185,185)" stroke-width="0.79" stroke-opacity="0.91"/><path d="M-5.0 113.5Q110.0 118.7 225.0 120.2" stroke="rgb(183,183,183)" stroke-width="0.79" stroke-opacity="0.81"/><path d="M-5.0 134.4Q110.0 179.0 225.0 226.7" stroke="rgb(164,164,164)" stroke-width="0.97" stroke-opacity="0.95"/><path d="M145.3 86.5Q207.9 107.5 270.5 131.2" stroke="rgb(194,194,194)" stroke-width="0.59" stroke-opacity="0.70"/><path d="M-5.0 161.7Q110.0 142.2 225.0 121.7" stroke="rgb(231,231,231)" stroke-width="0.61" stroke-opacity="0.96"/><path d="M33.2 -12.6Q81.7 -8.6 130.3 -5.3" stroke="rgb(192,192,192)" stroke-width="1.02" stroke-opacity="0.78"/><path d="M-5.0 172.7Q110.0 169.1 225.0 168.0" stroke="rgb(233,233,233)" stroke-width="0.49" stroke-opacity="0.92"/><path d="M-5.0 41.0Q110.0 66.3 225.0 94.2" stroke="rgb(234,234,234)" stroke-width="0.85" stroke-opacity="0.88"/><path d="M71.5 136.1Q122.2 143.0 172.9 147.5" stroke="rgb(214,214,214)" stroke-width="0.58" stroke-opacity="0.68"/><path d="M-0.2 -8.3Q67.9 11.1 135.9 27.3" stroke="rgb(232,232,232)" stroke-width="0.88" stroke-opacity="0.90"/><path d="M-5.0 77.1Q110.0 126.1 225.0 174.7" stroke="rgb(223,223,223)" stroke-width="0.48" stroke-opacity="0.67"/><path d="M-5.0 146.3Q110.0 141.4 225.0 134.4" stroke="rgb(240,240,240)" stroke-width="0.47" stroke-opacity="0.89"/><path d="M170.9 -5.4Q207.4 -14.2 243.9 -23.1" stroke="rgb(199,199,199)" stroke-width="0.65" stroke-opacity="0.87"/><path d="M-5.0 56.7Q110.0 70.3 225.0 86.4" stroke="rgb(180,180,180)" stroke-width="0.56" stroke-opacity="0.70"/><path d="M70.4 97.1Q134.3 103.9 198.3 108.8" stroke="rgb(177,177,177)" stroke-width="0.80" stroke-opacity="0.87"/><path d="M-5.0 186.6Q110.0 159.3 225.0 134.9" stroke="rgb(164,164,164)" stroke-width="0.71" stroke-opacity="0.62"/><path d="M180.9 100.0Q211.7 108.5 242.4 122.1" stroke="rgb(178,178,178)" stroke-width="0.47" stroke-opacity="0.72"/><path d="M182.9 62.6Q246.4 63.8 309.8 69.3" stroke="rgb(211,211,211)" stroke-width="0.61" stroke-opacity="0.75"/><path d="M-5.0 137.6Q110.0 157.7 225.0 180.0" stroke="rgb(197,197,197)" stroke-width="0.75" stroke-opacity="0.75"/><path d="M-5.0 -12.8Q110.0 -3.7 225.0 5.6" stroke="rgb(193,193,193)" stroke-width="1.04" stroke-opacity="0.63"/><path d="M-5.0 81.9Q110.0 119.7 225.0 161.4" stroke="rgb(216,216,216)" stroke-width="0.96" stroke-opacity="0.99"/><path d="M-5.0 155.6Q110.0 173.7 225.0 187.9" stroke="rgb(230,230,230)" stroke-width="0.51" stroke-opacity="0.62"/><path d="M-5.0 89.7Q110.0 55.6 225.0 23.9" stroke="rgb(206,206,206)" stroke-width="0.51" stroke-opacity="0.86"/><path d="M-5.0 110.0Q110.0 109.2 225.0 112.5" stroke="rgb(214,214,214)" stroke-width="0.92" stroke-opacity="0.60"/><path d="M-5.0 60.6Q110.0 53.4 225.0 48.3" stroke="rgb(210,210,210)" stroke-width="0.65" stroke-opacity="0.72"/><path d="M150.4 103.1Q202.6 124.8 254.8 143.0" stroke="rgb(192,192,192)" stroke-width="0.81" stroke-opacity="0.86"/><path d="M165.6 -20.5Q193.9 -22.9 222.2 -21.6" stroke="rgb(216,216,216)" stroke-width="0.91" stroke-opacity="0.93"/><path d="M166.5 115.8Q181.1 118.9 195.6 117.4" stroke="rgb(177,177,177)" stroke-width="0.85" stroke-opacity="0.69"/><path d="M110.7 41.4Q128.9 40.7 147.1 42.8" stroke="rgb(206,206,206)" stroke-width="0.78" stroke-opacity="0.65"/><path d="M-5.0 -19.8Q110.0 -12.2 225.0 -6.1" stroke="rgb(208,208,208)" stroke-width="0.59" stroke-opacity="0.83"/><path d="M51.4 104.6Q98.6 113.1 145.7 119.5" stroke="rgb(177,177,177)" stroke-width="0.90" stroke-opacity="0.95"/><path d="M-5.0 -11.1Q110.0 24.7 225.0 60.4" stroke="rgb(156,156,156)" stroke-width="0.79" stroke-opacity="0.70"/><path d="M135.4 17.7Q194.3 0.8 253.1 -18.4" stroke="rgb(178,178,178)" stroke-width="1.04" stroke-opacity="0.85"/><path d="M26.7 -18.7Q54.3 -18.0 81.9 -14.9" stroke="rgb(249,249,249)" stroke-width="0.63" stroke-opacity="0.83"/><path d="M-5.0 64.5Q110.0 74.0 225.0 83.1" stroke="rgb(167,167,167)" stroke-width="0.70" stroke-opacity="0.61"/><path d="M-5.0 27.2Q110.0 56.6 225.0 81.3" stroke="rgb(238,238,238)" stroke-width="0.82" stroke-opacity="0.86"/><path d="M58.8 86.0Q75.5 85.6 92.3 87.8" stroke="rgb(226,226,226)" stroke-width="0.81" stroke-opacity="0.99"/><path d="M-5.0 25.6Q110.0 29.5 225.0 32.9" stroke="rgb(187,187,187)" stroke-width="0.49" stroke-opacity="0.74"/><path d="M-5.0 -17.7Q110.0 25.9 225.0 66.9" stroke="rgb(224,224,224)" stroke-width="0.48" stroke-opacity="0.62"/><path d="M43.8 152.5Q94.2 156.5 144.6 162.5" stroke="rgb(174,174,174)" stroke-width="0.97" stroke-opacity="0.90"/><path d="M111.0 74.2Q180.8 60.1 250.6 49.1" stroke="rgb(166,166,166)" stroke-width="0.73" stroke-opacity="0.61"/><path d="M14.2 149.9Q63.3 141.6 112.3 133.5" stroke="rgb(191,191,191)" stroke-width="0.92" stroke-opacity="0.72"/><path d="M-5.0 147.4Q110.0 152.8 225.0 160.6" stroke="rgb(243,243,243)" stroke-width="0.98" stroke-opacity="0.68"/><path d="M-5.0 39.7Q110.0 63.9 225.0 90.4" stroke="rgb(185,185,185)" stroke-width="0.51" stroke-opacity="0.90"/><path d="M-5.0 54.0Q110.0 50.3 225.0 45.7" stroke="rgb(188,188,188)" stroke-width="0.95" stroke-opacity="0.91"/><path d="M186.8 44.2Q215.4 43.5 244.0 38.5" stroke="rgb(247,247,247)" stroke-width="0.94" stroke-opacity="0.92"/><path d="M-5.0 85.1Q110.0 94.0 225.0 106.7" stroke="rgb(157,157,157)" stroke-width="0.50" stroke-opacity="0.89"/><path d="M-5.0 52.3Q110.0 74.5 225.0 98.8" stroke="rgb(245,245,245)" stroke-width="0.75" stroke-opacity="0.75"/><path d="M-5.0 74.2Q110.0 69.0 225.0 67.5" stroke="rgb(174,174,174)" stroke-width="1.01" stroke-opacity="0.81"/><path d="M151.3 30.6Q171.5 30.0 191.8 28.1" stroke="rgb(209,209,209)" stroke-width="0.48" stroke-opacity="0.72"/><path d="M-5.0 121.3Q110.0 119.2 225.0 115.2" stroke="rgb(190,190,190)" stroke-width="0.80" stroke-opacity="0.65"/><path d="M154.4 58.4Q201.3 60.5 248.2 59.8" stroke="rgb(196,196,196)" stroke-width="0.47" stroke-opacity="0.63"/><path d="M35.3 72.8Q102.9 76.9 170.5 81.6" stroke="rgb(189,189,189)" stroke-width="0.87" stroke-opacity="0.63"/><path d="M-5.0 -12.0Q110.0 18.7 225.0 54.0" stroke="rgb(202,202,202)" stroke-width="0.91" stroke-opacity="0.83"/><path d="M-5.0 117.5Q110.0 132.1 225.0 146.4" stroke="rgb(247,247,247)" stroke-width="0.65" stroke-opacity="0.92"/><path d="M128.5 77.1Q173.5 78.0 218.5 79.4" stroke="rgb(227,227,227)" stroke-width="1.02" stroke-opacity="1.00"/><path d="M-5.0 36.8Q110.0 39.7 225.0 46.5" stroke="rgb(246,246,246)" stroke-width="0.60" stroke-opacity="0.66"/><path d="M102.8 -21.7Q116.5 -26.8 130.2 -28.0" stroke="rgb(213,213,213)" stroke-width="0.82" stroke-opacity="0.60"/><path d="M17.0 86.0Q37.9 87.2 58.7 86.0" stroke="rgb(170,170,170)" stroke-width="0.48" stroke-opacity="0.89"/><path d="M-5.0 102.4Q110.0 94.3 225.0 87.2" stroke="rgb(188,188,188)" stroke-width="0.66" stroke-opacity="0.87"/><path d="M-5.0 -23.7Q110.0 4.8 225.0 32.6" stroke="rgb(234,234,234)" stroke-width="0.84" stroke-opacity="0.73"/><path d="M166.5 68.6Q207.8 67.3 249.2 70.3" stroke="rgb(217,217,217)" stroke-width="0.60" stroke-opacity="0.70"/><path d="M-5.0 74.6Q110.0 117.9 225.0 160.2" stroke="rgb(233,233,233)" stroke-width="0.74" stroke-opacity="0.89"/><path d="M-5.0 81.5Q110.0 77.9 225.0 77.3" stroke="rgb(230,230,230)" stroke-width="0.89" stroke-opacity="0.75"/><path d="M77.7 -23.8Q90.2 -22.5 102.8 -22.9" stroke="rgb(156,156,156)" stroke-width="0.48" stroke-opacity="0.79"/><path d="M-5.0 143.5Q110.0 98.6 225.0 56.9" stroke="rgb(200,200,200)" stroke-width="0.75" stroke-opacity="0.64"/><path d="M-5.0 149.1Q110.0 128.5 225.0 109.1" stroke="rgb(232,232,232)" stroke-width="0.77" stroke-opacity="0.68"/><path d="M-5.0 175.5Q110.0 190.5 225.0 202.9" stroke="rgb(162,162,162)" stroke-width="0.93" stroke-opacity="0.70"/><path d="M41.1 82.3Q89.4 80.5 137.7 74.3" stroke="rgb(206,206,206)" stroke-width="0.77" stroke-opacity="0.68"/><path d="M145.1 43.5Q164.8 48.0 184.5 49.1" stroke="rgb(237,237,237)" stroke-width="0.81" stroke-opacity="0.78"/><path d="M19.9 167.8Q38.3 171.8 56.6 171.7" stroke="rgb(239,239,239)" stroke-width="0.93" stroke-opacity="0.72"/><path d="M-5.0 96.3Q110.0 136.9 225.0 179.6" stroke="rgb(150,150,150)" stroke-width="0.88" stroke-opacity="0.61"/><path d="M-5.0 3.5Q110.0 -31.2 225.0 -64.6" stroke="rgb(156,156,156)" stroke-width="0.50" stroke-opacity="0.91"/><path d="M-5.0 57.4Q110.0 71.8 225.0 82.6" stroke="rgb(213,213,213)" stroke-width="0.73" stroke-opacity="0.94"/><path d="M-5.0 106.3Q110.0 108.1 225.0 106.2" stroke="rgb(172,172,172)" stroke-width="1.02" stroke-opacity="0.82"/><path d="M-5.0 116.4Q110.0 152.4 225.0 183.5" stroke="rgb(192,192,192)" stroke-width="0.96" stroke-opacity="0.61"/><path d="M30.9 27.2Q44.9 21.9 58.9 16.1" stroke="rgb(215,215,215)" stroke-width="0.46" stroke-opacity="0.88"/><path d="M93.5 102.2Q152.7 110.7 212.0 119.3" stroke="rgb(217,217,217)" stroke-width="0.50" stroke-opacity="0.97"/><path d="M-5.0 -4.3Q110.0 30.8 225.0 63.3" stroke="rgb(190,190,190)" stroke-width="1.00" stroke-opacity="0.62"/><path d="M-5.0 75.0Q110.0 92.4 225.0 112.9" stroke="rgb(210,210,210)" stroke-width="0.57" stroke-opacity="0.99"/><path d="M-5.0 154.9Q110.0 166.7 225.0 175.9" stroke="rgb(196,196,196)" stroke-width="0.78" stroke-opacity="0.94"/><path d="M178.5 179.4Q204.9 182.0 231.2 189.2" stroke="rgb(193,193,193)" stroke-width="0.54" stroke-opacity="0.67"/><path d="M-5.0 60.3Q110.0 63.8 225.0 66.1" stroke="rgb(152,152,152)" stroke-width="0.59" stroke-opacity="0.63"/><path d="M83.6 40.0Q125.8 26.7 167.9 10.0" stroke="rgb(191,191,191)" stroke-width="1.02" stroke-opacity="0.92"/><path d="M-5.0 -13.9Q110.0 -6.0 225.0 -0.5" stroke="rgb(160,160,160)" stroke-width="0.88" stroke-opacity="0.71"/><path d="M125.5 43.6Q145.1 45.1 164.6 44.7" stroke="rgb(248,248,248)" stroke-width="0.53" stroke-opacity="0.88"/><path d="M30.6 66.0Q77.2 66.3 123.8 71.3" stroke="rgb(192,192,192)" stroke-width="0.60" stroke-opacity="0.90"/><path d="M-5.0 56.5Q110.0 65.7 225.0 71.4" stroke="rgb(214,214,214)" stroke-width="0.67" stroke-opacity="0.89"/><path d="M-5.0 84.4Q110.0 92.9 225.0 100.5" stroke="rgb(159,159,159)" stroke-width="1.02" stroke-opacity="0.91"/><path d="M-5.0 32.9Q110.0 47.6 225.0 61.2" stroke="rgb(192,192,192)" stroke-width="0.91" stroke-opacity="0.84"/><path d="M153.4 79.1Q169.0 76.7 184.7 75.5" stroke="rgb(175,175,175)" stroke-width="1.00" stroke-opacity="0.96"/><path d="M153.3 65.2Q210.5 60.4 267.6 58.9" stroke="rgb(235,235,235)" stroke-width="0.89" stroke-opacity="0.71"/><path d="M179.0 73.4Q241.6 71.2 304.2 71.7" stroke="rgb(213,213,213)" stroke-width="0.97" stroke-opacity="0.67"/><path d="M-5.0 74.9Q110.0 50.3 225.0 27.9" stroke="rgb(205,205,205)" stroke-width="0.98" stroke-opacity="0.66"/><path d="M-5.0 60.7Q110.0 65.6 225.0 74.6" stroke="rgb(196,196,196)" stroke-width="0.60" stroke-opacity="0.68"/><path d="M-5.0 184.3Q110.0 162.5 225.0 145.4" stroke="rgb(180,180,180)" stroke-width="0.64" stroke-opacity="0.84"/><path d="M-5.0 114.6Q110.0 114.6 225.0 114.3" stroke="rgb(152,152,152)" stroke-width="0.94" stroke-opacity="0.73"/><path d="M-5.0 -10.3Q110.0 17.4 225.0 40.5" stroke="rgb(150,150,150)" stroke-width="0.67" stroke-opacity="0.67"/><path d="M-5.0 176.5Q110.0 179.7 225.0 179.1" stroke="rgb(218,218,218)" stroke-width="0.57" stroke-opacity="0.79"/><path d="M59.3 -7.0Q129.2 -2.1 199.2 3.1" stroke="rgb(165,165,165)" stroke-width="0.84" stroke-opacity="0.91"/><path d="M-0.9 2.0Q36.3 2.9 73.4 -1.0" stroke="rgb(239,239,239)" stroke-width="0.52" stroke-opacity="0.91"/><path d="M88.8 93.0Q151.5 100.5 214.1 106.5" stroke="rgb(199,199,199)" stroke-width="0.65" stroke-opacity="0.67"/><path d="M66.9 176.8Q121.1 179.4 175.2 178.5" stroke="rgb(212,212,212)" stroke-width="0.49" stroke-opacity="0.79"/><path d="M-5.0 15.1Q110.0 48.4 225.0 78.5" stroke="rgb(240,240,240)" stroke-width="0.72" stroke-opacity="0.67"/><path d="M-5.0 59.4Q110.0 69.3 225.0 74.7" stroke="rgb(248,248,248)" stroke-width="0.61" stroke-opacity="0.72"/><path d="M-5.0 90.3Q110.0 62.7 225.0 37.3" stroke="rgb(176,176,176)" stroke-width="0.83" stroke-opacity="0.72"/><path d="M84.3 61.4Q144.4 60.7 204.5 63.1" stroke="rgb(153,153,153)" stroke-width="0.86" stroke-opacity="0.74"/><path d="M-5.0 -5.4Q110.0 9.5 225.0 20.9" stroke="rgb(241,241,241)" stroke-width="0.86" stroke-opacity="0.81"/><path d="M-5.0 147.1Q110.0 135.5 225.0 122.1" stroke="rgb(189,189,189)" stroke-width="0.81" stroke-opacity="0.87"/><path d="M105.0 101.7Q141.2 105.9 177.4 112.7" stroke="rgb(212,212,212)" stroke-width="0.93" stroke-opacity="0.71"/><path d="M-5.0 41.7Q110.0 52.6 225.0 62.1" stroke="rgb(237,237,237)" stroke-width="0.48" stroke-opacity="0.90"/><path d="M-5.0 168.9Q110.0 136.0 225.0 105.5" stroke="rgb(195,195,195)" stroke-width="0.61" stroke-opacity="0.75"/><path d="M-5.0 137.6Q110.0 145.1 225.0 154.2" stroke="rgb(240,240,240)" stroke-width="0.78" stroke-opacity="0.61"/><path d="M145.9 -49.8Q182.1 -60.4 218.4 -70.0" stroke="rgb(170,170,170)" stroke-width="0.96" stroke-opacity="0.98"/><path d="M9.2 107.4Q59.8 108.4 110.3 114.2" stroke="rgb(240,240,240)" stroke-width="0.85" stroke-opacity="0.87"/><path d="M165.6 113.5Q188.2 112.0 210.8 111.4" stroke="rgb(217,217,217)" stroke-width="0.82" stroke-opacity="0.79"/><path d="M30.1 -7.4Q43.7 -3.6 57.2 -3.4" stroke="rgb(189,189,189)" stroke-width="0.80" stroke-opacity="0.74"/><path d="M139.6 116.3Q169.6 118.8 199.6 125.0" stroke="rgb(171,171,171)" stroke-width="0.65" stroke-opacity="0.87"/><path d="M164.5 -0.4Q228.3 1.4 292.0 0.2" stroke="rgb(163,163,163)" stroke-width="0.72" stroke-opacity="0.91"/><path d="M-5.0 -6.5Q110.0 -4.0 225.0 0.2" stroke="rgb(176,176,176)" stroke-width="0.66" stroke-opacity="0.71"/><path d="M185.3 131.7Q211.2 132.5 237.1 134.0" stroke="rgb(208,208,208)" stroke-width="0.97" stroke-opacity="0.82"/><path d="M67.9 118.0Q136.0 96.1 204.1 72.6" stroke="rgb(173,173,173)" stroke-width="0.67" stroke-opacity="0.92"/><path d="M-5.0 -18.9Q110.0 -15.0 225.0 -6.8" stroke="rgb(166,166,166)" stroke-width="0.51" stroke-opacity="0.67"/><path d="M-5.0 137.9Q110.0 156.6 225.0 174.8" stroke="rgb(180,180,180)" stroke-width="0.98" stroke-opacity="0.61"/><path d="M-5.0 -21.1Q110.0 5.4 225.0 33.6" stroke="rgb(230,230,230)" stroke-width="0.83" stroke-opacity="0.85"/><path d="M38.2 1.7Q61.4 -3.5 84.5 -4.7" stroke="rgb(224,224,224)" stroke-width="0.97" stroke-opacity="0.75"/><path d="M-5.0 63.3Q110.0 64.2 225.0 60.5" stroke="rgb(177,177,177)" stroke-width="1.02" stroke-opacity="0.72"/><path d="M2.3 48.7Q22.7 48.8 43.1 47.4" stroke="rgb(175,175,175)" stroke-width="0.64" stroke-opacity="0.97"/><path d="M97.8 132.8Q141.1 139.5 184.3 144.9" stroke="rgb(234,234,234)" stroke-width="0.52" stroke-opacity="0.91"/><path d="M-5.0 48.7Q110.0 73.5 225.0 100.6" stroke="rgb(243,243,243)" stroke-width="0.98" stroke-opacity="0.82"/><path d="M116.4 35.5Q172.8 36.5 229.1 40.9" stroke="rgb(168,168,168)" stroke-width="0.91" stroke-opacity="0.71"/><path d="M158.1 53.2Q203.8 40.9 249.5 32.8" stroke="rgb(186,186,186)" stroke-width="0.98" stroke-opacity="0.81"/><path d="M71.0 168.4Q137.6 158.7 204.1 145.5" stroke="rgb(228,228,228)" stroke-width="0.56" stroke-opacity="0.94"/><path d="M128.9 20.9Q150.4 19.7 171.8 20.1" stroke="rgb(238,238,238)" stroke-width="0.64" stroke-opacity="0.79"/><path d="M-5.0 140.6Q110.0 132.4 225.0 119.8" stroke="rgb(245,245,245)" stroke-width="1.02" stroke-opacity="0.67"/><path d="M127.1 121.4Q151.2 122.5 175.3 124.1" stroke="rgb(183,183,183)" stroke-width="0.54" stroke-opacity="0.86"/><path d="M145.5 141.8Q182.3 146.7 219.1 152.1" stroke="rgb(204,204,204)" stroke-width="0.78" stroke-opacity="0.66"/><path d="M136.8 77.4Q204.3 75.7 271.8 75.0" stroke="rgb(180,180,180)" stroke-width="0.49" stroke-opacity="0.82"/><path d="M155.9 225.5Q168.9 227.3 182.0 233.8" stroke="rgb(198,198,198)" stroke-width="0.47" stroke-opacity="0.69"/><path d="M-5.0 128.7Q110.0 111.2 225.0 96.1" stroke="rgb(153,153,153)" stroke-width="0.67" stroke-opacity="0.90"/><path d="M43.7 -10.0Q76.5 -5.1 109.2 -2.0" stroke="rgb(215,215,215)" stroke-width="0.46" stroke-opacity="0.65"/><path d="M-5.0 58.8Q110.0 72.7 225.0 83.5" stroke="rgb(216,216,216)" stroke-width="0.91" stroke-opacity="0.63"/><path d="M-5.0 158.2Q110.0 145.2 225.0 135.4" stroke="rgb(193,193,193)" stroke-width="0.56" stroke-opacity="0.74"/><path d="M81.0 -21.2Q121.4 -21.5 161.7 -19.4" stroke="rgb(164,164,164)" stroke-width="0.79" stroke-opacity="0.97"/><path d="M-5.0 92.0Q110.0 70.0 225.0 44.1" stroke="rgb(151,151,151)" stroke-width="0.73" stroke-opacity="0.96"/><path d="M-5.0 48.2Q110.0 98.8 225.0 153.8" stroke="rgb(173,173,173)" stroke-width="0.79" stroke-opacity="0.75"/><path d="M-5.0 175.7Q110.0 179.9 225.0 180.3" stroke="rgb(159,159,159)" stroke-width="0.76" stroke-opacity="0.66"/><path d="M-5.0 8.5Q110.0 34.2 225.0 55.5" stroke="rgb(247,247,247)" stroke-width="0.94" stroke-opacity="0.76"/><path d="M-5.0 140.8Q110.0 149.1 225.0 152.9" stroke="rgb(165,165,165)" stroke-width="0.91" stroke-opacity="0.67"/></g>
<g filter="url(#blur2)"><ellipse cx="85" cy="35" rx="18" ry="6" fill="#000" fill-opacity="0.35"/><ellipse cx="172" cy="68" rx="28" ry="7" fill="#000" fill-opacity="0.35"/><ellipse cx="176" cy="102" rx="26" ry="7" fill="#000" fill-opacity="0.35"/><ellipse cx="115" cy="103" rx="25" ry="8" fill="#000" fill-opacity="0.35"/><ellipse cx="120" cy="125" rx="20" ry="5" fill="#000" fill-opacity="0.35"/><ellipse cx="28" cy="48" rx="22" ry="6" fill="#000" fill-opacity="0.35"/></g>
<g fill="none" filter="url(#soft)"><line x1="2" y1="78" x2="222" y2="115" stroke="rgb(235,235,235)" stroke-width="1.4"/><line x1="2" y1="36" x2="130" y2="16" stroke="rgb(210,210,210)" stroke-width="1.4"/><line x1="100" y1="69" x2="222" y2="73" stroke="rgb(215,215,215)" stroke-width="1.4"/><line x1="100" y1="88" x2="222" y2="80" stroke="rgb(210,210,210)" stroke-width="1.4"/><line x1="40" y1="48" x2="220" y2="60" stroke="rgb(200,200,200)" stroke-width="1.4"/><line x1="2" y1="122" x2="220" y2="112" stroke="rgb(210,210,210)" stroke-width="1.4"/><line x1="60" y1="140" x2="220" y2="150" stroke="rgb(205,205,205)" stroke-width="1.4"/><line x1="100" y1="128" x2="220" y2="136" stroke="rgb(225,225,225)" stroke-width="1.4"/></g>
</g>
<g clip-path="url(#cI)">
<rect x="129.3" y="2" width="90.3" height="53.8" fill="#5e5e5e"/>
<g fill="none" filter="url(#soft2)"><path d="M140.5 -2Q145.2 28 155.0 58" stroke="rgb(97,97,97)" stroke-width="1.18"/><path d="M145.7 -2Q148.7 28 157.5 58" stroke="rgb(96,96,96)" stroke-width="1.10"/><path d="M108.7 -2Q111.4 28 121.5 58" stroke="rgb(119,119,119)" stroke-width="0.89"/><path d="M127.9 -2Q141.6 28 156.7 58" stroke="rgb(112,112,112)" stroke-width="1.08"/><path d="M222.0 -2Q226.9 28 233.4 58" stroke="rgb(103,103,103)" stroke-width="0.90"/><path d="M114.7 -2Q122.6 28 134.0 58" stroke="rgb(100,100,100)" stroke-width="1.21"/><path d="M179.9 -2Q185.7 28 201.0 58" stroke="rgb(96,96,96)" stroke-width="0.84"/><path d="M125.7 -2Q132.2 28 156.2 58" stroke="rgb(104,104,104)" stroke-width="1.21"/><path d="M156.6 -2Q164.2 28 175.6 58" stroke="rgb(115,115,115)" stroke-width="0.97"/><path d="M171.8 -2Q183.1 28 197.6 58" stroke="rgb(116,116,116)" stroke-width="1.00"/><path d="M222.5 -2Q225.4 28 236.1 58" stroke="rgb(117,117,117)" stroke-width="0.91"/><path d="M161.1 -2Q164.9 28 172.3 58" stroke="rgb(117,117,117)" stroke-width="1.20"/><path d="M209.4 -2Q216.2 28 228.8 58" stroke="rgb(112,112,112)" stroke-width="1.21"/><path d="M157.0 -2Q173.7 28 192.2 58" stroke="rgb(109,109,109)" stroke-width="1.26"/><path d="M107.6 -2Q117.6 28 138.6 58" stroke="rgb(124,124,124)" stroke-width="1.38"/><path d="M135.6 -2Q142.8 28 157.1 58" stroke="rgb(95,95,95)" stroke-width="1.12"/><path d="M121.0 -2Q121.4 28 134.5 58" stroke="rgb(118,118,118)" stroke-width="0.89"/><path d="M131.0 -2Q140.4 28 152.7 58" stroke="rgb(97,97,97)" stroke-width="1.11"/><path d="M168.7 -2Q183.6 28 205.2 58" stroke="rgb(120,120,120)" stroke-width="0.99"/><path d="M151.9 -2Q161.1 28 172.7 58" stroke="rgb(123,123,123)" stroke-width="0.91"/><path d="M122.0 -2Q124.0 28 139.0 58" stroke="rgb(109,109,109)" stroke-width="1.21"/><path d="M132.8 -2Q135.0 28 143.0 58" stroke="rgb(106,106,106)" stroke-width="1.20"/><path d="M219.1 -2Q227.1 28 249.9 58" stroke="rgb(113,113,113)" stroke-width="1.27"/><path d="M106.7 -2Q121.2 28 143.7 58" stroke="rgb(121,121,121)" stroke-width="1.36"/><path d="M149.0 -2Q150.2 28 171.0 58" stroke="rgb(114,114,114)" stroke-width="0.84"/><path d="M108.4 -2Q109.7 28 124.7 58" stroke="rgb(105,105,105)" stroke-width="0.84"/><path d="M100.0 -2Q100.8 28 114.6 58" stroke="rgb(105,105,105)" stroke-width="0.82"/><path d="M209.3 -2Q211.4 28 237.7 58" stroke="rgb(102,102,102)" stroke-width="1.04"/><path d="M145.5 -2Q151.3 28 159.2 58" stroke="rgb(124,124,124)" stroke-width="1.13"/><path d="M160.5 -2Q161.1 28 173.1 58" stroke="rgb(105,105,105)" stroke-width="0.99"/></g>
<g fill="none" filter="url(#soft2)"><path d="M204.5 -2Q204.6 28 219.3 58" stroke="rgb(182,182,182)" stroke-width="2.34"/><path d="M122.6 -2Q122.9 28 148.9 58" stroke="rgb(161,161,161)" stroke-width="2.97"/><path d="M208.6 -2Q212.6 28 239.5 58" stroke="rgb(153,153,153)" stroke-width="1.83"/><path d="M197.6 -2Q207.8 28 223.6 58" stroke="rgb(151,151,151)" stroke-width="1.91"/><path d="M202.4 -2Q219.2 28 241.9 58" stroke="rgb(175,175,175)" stroke-width="2.75"/><path d="M193.8 -2Q198.1 28 210.6 58" stroke="rgb(152,152,152)" stroke-width="1.64"/><path d="M108.4 -2Q110.7 28 126.7 58" stroke="rgb(169,169,169)" stroke-width="2.94"/><path d="M158.7 -2Q177.5 28 196.8 58" stroke="rgb(182,182,182)" stroke-width="2.11"/><path d="M131.5 -2Q133.1 28 148.3 58" stroke="rgb(145,145,145)" stroke-width="2.47"/><path d="M213.0 -2Q221.5 28 248.3 58" stroke="rgb(167,167,167)" stroke-width="2.72"/><path d="M115.2 -2Q128.7 28 145.0 58" stroke="rgb(174,174,174)" stroke-width="2.65"/><path d="M162.4 -2Q168.4 28 177.7 58" stroke="rgb(151,151,151)" stroke-width="2.72"/><path d="M221.6 -2Q226.0 28 243.5 58" stroke="rgb(182,182,182)" stroke-width="2.61"/><path d="M125.4 -2Q126.4 28 139.2 58" stroke="rgb(180,180,180)" stroke-width="2.73"/><path d="M122.5 -2Q139.6 28 157.3 58" stroke="rgb(167,167,167)" stroke-width="2.09"/><path d="M170.8 -2Q170.9 28 184.8 58" stroke="rgb(183,183,183)" stroke-width="2.51"/><path d="M168.2 -2Q176.4 28 206.2 58" stroke="rgb(178,178,178)" stroke-width="2.76"/><path d="M130.3 -2Q132.9 28 147.9 58" stroke="rgb(147,147,147)" stroke-width="2.42"/><path d="M136.1 -2Q137.6 28 158.7 58" stroke="rgb(180,180,180)" stroke-width="2.10"/><path d="M160.0 -2Q172.4 28 187.5 58" stroke="rgb(156,156,156)" stroke-width="2.88"/><path d="M165.2 -2Q172.0 28 191.2 58" stroke="rgb(135,135,135)" stroke-width="2.22"/><path d="M127.0 -2Q131.0 28 137.1 58" stroke="rgb(143,143,143)" stroke-width="2.26"/><path d="M192.0 -2Q196.4 28 218.7 58" stroke="rgb(160,160,160)" stroke-width="2.38"/><path d="M199.1 -2Q202.8 28 212.3 58" stroke="rgb(147,147,147)" stroke-width="1.99"/><path d="M197.7 -2Q204.8 28 222.9 58" stroke="rgb(172,172,172)" stroke-width="2.88"/><path d="M158.2 -2Q165.4 28 186.6 58" stroke="rgb(160,160,160)" stroke-width="2.57"/><path d="M159.3 -2Q165.5 28 185.3 58" stroke="rgb(182,182,182)" stroke-width="2.58"/><path d="M210.2 -2Q215.2 28 248.4 58" stroke="rgb(162,162,162)" stroke-width="2.92"/><path d="M205.8 -2Q206.7 28 219.9 58" stroke="rgb(157,157,157)" stroke-width="1.70"/><path d="M133.9 -2Q138.0 28 146.1 58" stroke="rgb(174,174,174)" stroke-width="2.86"/><path d="M123.5 -2Q133.9 28 155.0 58" stroke="rgb(142,142,142)" stroke-width="2.84"/><path d="M221.1 -2Q229.0 28 237.7 58" stroke="rgb(154,154,154)" stroke-width="2.28"/><path d="M223.8 -2Q226.6 28 258.8 58" stroke="rgb(156,156,156)" stroke-width="2.32"/><path d="M145.7 -2Q148.2 28 161.6 58" stroke="rgb(171,171,171)" stroke-width="1.63"/><path d="M171.5 -2Q171.7 28 194.7 58" stroke="rgb(151,151,151)" stroke-width="2.47"/><path d="M166.5 -2Q172.3 28 178.4 58" stroke="rgb(174,174,174)" stroke-width="2.96"/><path d="M117.6 -2Q117.9 28 135.5 58" stroke="rgb(173,173,173)" stroke-width="1.98"/><path d="M120.5 -2Q130.9 28 143.2 58" stroke="rgb(175,175,175)" stroke-width="1.96"/><path d="M122.9 -2Q133.6 28 160.5 58" stroke="rgb(170,170,170)" stroke-width="1.73"/><path d="M111.9 -2Q118.4 28 142.5 58" stroke="rgb(138,138,138)" stroke-width="2.91"/><path d="M181.1 -2Q182.6 28 215.2 58" stroke="rgb(177,177,177)" stroke-width="1.69"/><path d="M208.5 -2Q212.5 28 232.1 58" stroke="rgb(162,162,162)" stroke-width="2.90"/><path d="M137.1 -2Q140.8 28 151.0 58" stroke="rgb(146,146,146)" stroke-width="1.75"/><path d="M124.4 -2Q125.5 28 135.9 58" stroke="rgb(150,150,150)" stroke-width="2.03"/><path d="M196.1 -2Q200.8 28 214.8 58" stroke="rgb(143,143,143)" stroke-width="2.09"/><path d="M107.2 -2Q107.3 28 124.7 58" stroke="rgb(171,171,171)" stroke-width="2.37"/></g>
<rect x="185.8" y="48.5" width="29.7" height="4" fill="#111"/>
</g>
<line x1="129.3" y1="56.2" x2="220" y2="56.2" stroke="#d0d0d0" stroke-width="0.8"/>
<rect x="0" y="0" width="25.2" height="25" fill="#fff"/>
<text transform="translate(7.5,21.25) scale(0.88,1)" font-size="22" font-weight="bold" fill="#000">a</text>
<rect x="163.2" y="139.5" width="54.6" height="24" fill="#fff" stroke="#333" stroke-width="0.6"/>
<rect x="166.8" y="141.4" width="46.7" height="3.9" fill="#000"/>
<text x="190.20" y="157.60" font-size="11.5" text-anchor="middle" font-weight="bold" fill="#000" >150 µm</text>
<g stroke="#e3322b" stroke-width="2.3" fill="none"><path d="M61 151.6H18.5"/><path d="M27 146L18 151.6L27 157"/></g>
<g clip-path="url(#cB)">
<rect x="223.2" y="2" width="217.4" height="162.8" fill="#606060"/>
<g fill="none" filter="url(#soft2)"><path d="M179.5 -120.4Q266.2 92.7 362.3 301.8" stroke="rgb(107,107,107)" stroke-width="0.64"/><path d="M60.3 -22.4Q227.8 135.8 375.9 312.3" stroke="rgb(117,117,117)" stroke-width="0.88"/><path d="M508.9 -130.3Q427.4 85.5 314.2 286.5" stroke="rgb(107,107,107)" stroke-width="1.12"/><path d="M455.9 -70.3Q356.7 138.3 220.0 324.6" stroke="rgb(111,111,111)" stroke-width="0.95"/><path d="M495.6 -98.6Q286.4 -3.0 76.0 90.0" stroke="rgb(110,110,110)" stroke-width="1.13"/><path d="M308.3 -57.2Q368.6 165.3 457.3 378.0" stroke="rgb(102,102,102)" stroke-width="1.16"/><path d="M212.2 -87.3Q427.4 -4.9 630.9 103.3" stroke="rgb(117,117,117)" stroke-width="0.86"/><path d="M367.5 -184.3Q368.0 45.8 357.0 275.6" stroke="rgb(99,99,99)" stroke-width="0.95"/><path d="M476.7 -36.1Q334.3 145.7 227.9 350.7" stroke="rgb(113,113,113)" stroke-width="1.19"/><path d="M581.1 -77.3Q362.9 -0.9 164.4 117.7" stroke="rgb(115,115,115)" stroke-width="0.94"/><path d="M581.3 -87.0Q380.9 25.9 184.2 145.1" stroke="rgb(97,97,97)" stroke-width="0.64"/><path d="M194.5 110.0Q411.6 187.6 636.8 236.3" stroke="rgb(101,101,101)" stroke-width="0.69"/><path d="M495.9 42.7Q292.9 153.2 72.2 221.7" stroke="rgb(107,107,107)" stroke-width="0.63"/><path d="M597.9 -32.8Q375.1 28.9 169.7 135.3" stroke="rgb(104,104,104)" stroke-width="1.20"/><path d="M358.7 -214.6Q310.1 11.5 216.9 223.0" stroke="rgb(95,95,95)" stroke-width="0.84"/><path d="M130.5 -11.7Q356.0 37.1 586.4 49.5" stroke="rgb(98,98,98)" stroke-width="1.18"/><path d="M397.2 -168.3Q424.7 60.0 454.2 288.1" stroke="rgb(108,108,108)" stroke-width="0.96"/><path d="M572.4 62.1Q346.4 104.4 120.4 147.4" stroke="rgb(102,102,102)" stroke-width="1.03"/><path d="M500.3 29.7Q270.8 44.6 41.4 61.7" stroke="rgb(105,105,105)" stroke-width="0.61"/><path d="M83.0 82.8Q312.2 103.1 542.1 111.8" stroke="rgb(107,107,107)" stroke-width="0.64"/><path d="M485.2 -118.2Q368.7 80.2 239.6 270.7" stroke="rgb(109,109,109)" stroke-width="1.04"/><path d="M341.0 -194.5Q200.5 -11.0 99.4 196.9" stroke="rgb(97,97,97)" stroke-width="0.87"/><path d="M258.9 -160.1Q362.8 45.3 449.6 258.5" stroke="rgb(100,100,100)" stroke-width="0.96"/><path d="M459.2 -91.1Q301.1 77.6 112.0 210.6" stroke="rgb(105,105,105)" stroke-width="1.04"/><path d="M475.5 -101.8Q295.4 41.8 100.2 164.1" stroke="rgb(95,95,95)" stroke-width="0.86"/><path d="M257.0 -186.1Q386.1 4.4 501.1 203.8" stroke="rgb(113,113,113)" stroke-width="0.86"/><path d="M303.2 -179.1Q409.5 25.0 528.9 221.7" stroke="rgb(114,114,114)" stroke-width="0.87"/><path d="M289.3 -216.6Q283.3 13.8 246.5 241.4" stroke="rgb(112,112,112)" stroke-width="1.10"/><path d="M447.2 -89.4Q254.1 35.7 69.0 172.5" stroke="rgb(112,112,112)" stroke-width="0.81"/><path d="M428.9 -94.7Q252.4 53.1 62.0 182.8" stroke="rgb(99,99,99)" stroke-width="0.85"/><path d="M536.5 9.0Q317.9 82.4 90.8 122.5" stroke="rgb(90,90,90)" stroke-width="1.17"/><path d="M374.7 -52.5Q399.8 177.2 468.9 397.7" stroke="rgb(115,115,115)" stroke-width="0.73"/><path d="M502.9 -55.7Q389.4 144.3 277.5 345.3" stroke="rgb(98,98,98)" stroke-width="0.80"/><path d="M331.7 -218.5Q278.7 5.5 205.2 223.7" stroke="rgb(112,112,112)" stroke-width="0.63"/><path d="M650.8 63.8Q422.7 99.1 203.9 172.8" stroke="rgb(115,115,115)" stroke-width="0.95"/><path d="M20.8 9.7Q223.2 119.3 415.4 246.1" stroke="rgb(108,108,108)" stroke-width="0.91"/><path d="M391.6 -52.1Q319.7 166.5 232.9 379.6" stroke="rgb(97,97,97)" stroke-width="1.12"/><path d="M223.9 -70.8Q340.7 127.9 430.4 340.3" stroke="rgb(104,104,104)" stroke-width="1.09"/><path d="M478.3 80.5Q251.5 121.6 32.2 192.4" stroke="rgb(113,113,113)" stroke-width="0.60"/><path d="M135.5 113.6Q364.5 138.3 589.9 185.5" stroke="rgb(97,97,97)" stroke-width="0.92"/><path d="M490.0 -71.1Q330.5 96.5 138.8 226.0" stroke="rgb(91,91,91)" stroke-width="0.68"/><path d="M473.6 -15.6Q242.9 -15.0 15.0 20.9" stroke="rgb(92,92,92)" stroke-width="0.90"/><path d="M185.6 -157.2Q282.7 51.5 392.8 253.6" stroke="rgb(106,106,106)" stroke-width="0.82"/><path d="M47.1 -36.4Q258.9 53.4 472.7 138.0" stroke="rgb(110,110,110)" stroke-width="0.83"/><path d="M144.6 -189.0Q229.0 25.1 322.9 235.0" stroke="rgb(111,111,111)" stroke-width="0.83"/><path d="M354.2 -119.5Q409.5 103.9 452.3 330.0" stroke="rgb(103,103,103)" stroke-width="1.02"/><path d="M285.6 -109.8Q326.5 116.8 342.0 346.7" stroke="rgb(105,105,105)" stroke-width="1.02"/><path d="M178.7 -155.2Q213.4 73.0 284.9 292.4" stroke="rgb(116,116,116)" stroke-width="0.82"/><path d="M269.7 -32.4Q427.3 135.1 582.3 305.1" stroke="rgb(93,93,93)" stroke-width="1.09"/><path d="M553.5 14.6Q365.6 147.5 187.8 293.7" stroke="rgb(110,110,110)" stroke-width="0.94"/><path d="M9.3 95.2Q239.5 80.9 469.2 102.3" stroke="rgb(111,111,111)" stroke-width="0.63"/><path d="M450.5 -76.0Q242.5 23.3 22.6 92.7" stroke="rgb(90,90,90)" stroke-width="1.10"/><path d="M362.8 -50.5Q229.1 137.4 124.2 342.8" stroke="rgb(116,116,116)" stroke-width="0.95"/><path d="M574.0 -156.8Q402.3 -3.7 231.4 150.2" stroke="rgb(110,110,110)" stroke-width="0.66"/><path d="M165.2 119.0Q392.7 154.3 616.8 206.8" stroke="rgb(105,105,105)" stroke-width="1.10"/><path d="M109.2 -139.4Q267.8 27.4 434.6 185.9" stroke="rgb(111,111,111)" stroke-width="0.84"/><path d="M197.1 -141.6Q305.0 61.5 405.6 268.4" stroke="rgb(92,92,92)" stroke-width="0.90"/><path d="M605.0 -97.6Q455.8 78.3 282.4 230.3" stroke="rgb(109,109,109)" stroke-width="1.05"/><path d="M361.6 -144.0Q366.2 86.0 385.1 315.4" stroke="rgb(115,115,115)" stroke-width="0.69"/><path d="M459.7 68.8Q237.3 127.6 15.4 188.0" stroke="rgb(102,102,102)" stroke-width="1.03"/><path d="M72.3 -95.2Q256.2 42.9 445.2 174.2" stroke="rgb(98,98,98)" stroke-width="0.74"/><path d="M239.8 -17.9Q369.2 172.5 515.0 350.7" stroke="rgb(101,101,101)" stroke-width="1.11"/><path d="M174.1 -105.8Q367.5 20.9 530.7 184.7" stroke="rgb(103,103,103)" stroke-width="0.83"/><path d="M133.5 -138.3Q243.9 64.0 377.5 251.7" stroke="rgb(94,94,94)" stroke-width="1.19"/><path d="M304.7 -128.0Q311.1 102.5 350.7 329.7" stroke="rgb(113,113,113)" stroke-width="0.93"/><path d="M535.2 23.2Q330.3 127.8 121.0 223.4" stroke="rgb(110,110,110)" stroke-width="1.18"/><path d="M154.6 -122.2Q317.5 40.5 495.1 187.2" stroke="rgb(108,108,108)" stroke-width="1.18"/><path d="M225.3 -94.3Q422.4 24.8 606.0 163.8" stroke="rgb(95,95,95)" stroke-width="1.02"/><path d="M256.7 -8.7Q403.7 169.2 576.8 321.6" stroke="rgb(98,98,98)" stroke-width="0.85"/><path d="M166.0 -60.1Q381.5 21.9 606.6 71.9" stroke="rgb(98,98,98)" stroke-width="0.81"/><path d="M121.4 110.0Q351.5 106.7 581.3 119.9" stroke="rgb(102,102,102)" stroke-width="0.89"/><path d="M492.1 66.1Q265.1 103.6 36.6 130.4" stroke="rgb(105,105,105)" stroke-width="0.67"/><path d="M63.8 33.5Q272.9 131.3 495.3 192.7" stroke="rgb(115,115,115)" stroke-width="0.66"/><path d="M609.9 -91.6Q427.8 49.5 262.5 210.0" stroke="rgb(98,98,98)" stroke-width="1.01"/><path d="M214.2 -31.3Q359.3 147.7 523.2 309.5" stroke="rgb(116,116,116)" stroke-width="1.00"/><path d="M336.6 -219.0Q348.4 10.8 345.4 240.9" stroke="rgb(110,110,110)" stroke-width="1.01"/><path d="M449.7 -182.7Q342.2 20.8 246.5 230.0" stroke="rgb(95,95,95)" stroke-width="1.13"/><path d="M593.8 -36.1Q372.8 30.3 144.3 61.7" stroke="rgb(99,99,99)" stroke-width="1.03"/><path d="M458.2 -113.1Q357.3 93.6 252.6 298.4" stroke="rgb(98,98,98)" stroke-width="0.71"/><path d="M396.0 -37.9Q229.6 120.9 66.2 282.8" stroke="rgb(110,110,110)" stroke-width="0.82"/><path d="M489.3 -28.7Q286.4 82.0 65.7 150.6" stroke="rgb(104,104,104)" stroke-width="0.75"/><path d="M280.4 -143.5Q399.9 53.1 511.0 254.5" stroke="rgb(105,105,105)" stroke-width="1.06"/><path d="M82.1 67.3Q301.9 135.9 513.8 226.0" stroke="rgb(92,92,92)" stroke-width="0.67"/><path d="M205.8 -1.6Q406.6 111.6 590.4 250.7" stroke="rgb(101,101,101)" stroke-width="1.05"/><path d="M472.2 -92.0Q423.6 133.5 341.2 349.0" stroke="rgb(101,101,101)" stroke-width="0.72"/><path d="M153.8 -41.3Q346.4 85.1 524.2 231.5" stroke="rgb(111,111,111)" stroke-width="0.62"/><path d="M630.8 118.4Q404.7 160.6 176.7 191.3" stroke="rgb(105,105,105)" stroke-width="0.95"/><path d="M491.2 -20.8Q372.3 176.3 236.6 362.3" stroke="rgb(114,114,114)" stroke-width="0.89"/><path d="M126.3 122.7Q356.2 138.0 586.3 126.2" stroke="rgb(108,108,108)" stroke-width="0.90"/><path d="M149.2 -56.1Q337.2 76.4 526.9 206.5" stroke="rgb(91,91,91)" stroke-width="0.90"/></g>
<g fill="none" filter="url(#soft2)"><path d="M414.2 -152.9Q339.8 66.5 319.4 297.3" stroke="rgb(146,146,146)" stroke-width="1.12"/><path d="M174.1 68.9Q402.5 97.0 628.3 141.7" stroke="rgb(125,125,125)" stroke-width="1.07"/><path d="M220.3 -33.4Q322.8 173.7 463.0 357.4" stroke="rgb(140,140,140)" stroke-width="1.12"/><path d="M640.7 48.9Q413.8 88.6 192.7 153.5" stroke="rgb(141,141,141)" stroke-width="1.31"/><path d="M613.1 65.4Q406.2 165.8 196.0 259.3" stroke="rgb(142,142,142)" stroke-width="1.44"/><path d="M17.5 -57.9Q245.0 -19.5 463.8 53.7" stroke="rgb(123,123,123)" stroke-width="1.45"/><path d="M323.6 -133.7Q370.6 91.6 435.1 312.6" stroke="rgb(127,127,127)" stroke-width="1.42"/><path d="M199.0 -59.3Q380.0 84.5 586.9 187.9" stroke="rgb(141,141,141)" stroke-width="1.33"/><path d="M370.8 -131.6Q318.0 92.9 233.5 307.4" stroke="rgb(118,118,118)" stroke-width="1.19"/><path d="M370.2 -211.6Q417.2 14.3 427.9 244.7" stroke="rgb(124,124,124)" stroke-width="1.15"/><path d="M80.7 1.3Q311.9 -2.2 539.0 41.0" stroke="rgb(123,123,123)" stroke-width="1.44"/><path d="M191.6 -232.8Q234.5 -6.8 266.4 221.1" stroke="rgb(140,140,140)" stroke-width="1.05"/><path d="M80.6 44.1Q307.4 91.2 539.0 82.6" stroke="rgb(125,125,125)" stroke-width="1.08"/><path d="M412.8 -192.7Q335.1 23.9 240.2 233.7" stroke="rgb(121,121,121)" stroke-width="1.05"/><path d="M566.8 -101.3Q387.3 42.5 205.2 183.1" stroke="rgb(147,147,147)" stroke-width="1.27"/><path d="M465.8 -87.3Q269.5 32.7 81.6 165.7" stroke="rgb(129,129,129)" stroke-width="1.08"/><path d="M441.1 -51.1Q403.9 177.8 309.6 389.7" stroke="rgb(118,118,118)" stroke-width="1.08"/><path d="M28.3 -42.0Q253.5 5.9 481.7 35.6" stroke="rgb(146,146,146)" stroke-width="1.18"/><path d="M631.4 -54.9Q429.4 57.8 256.3 211.3" stroke="rgb(148,148,148)" stroke-width="1.03"/><path d="M513.4 63.8Q290.7 126.7 59.8 140.7" stroke="rgb(127,127,127)" stroke-width="1.76"/><path d="M127.5 -137.4Q232.6 67.5 356.4 261.6" stroke="rgb(147,147,147)" stroke-width="1.16"/><path d="M588.9 12.2Q387.3 123.0 188.8 239.3" stroke="rgb(147,147,147)" stroke-width="1.33"/><path d="M489.4 -114.5Q313.2 33.3 135.5 179.3" stroke="rgb(126,126,126)" stroke-width="1.15"/><path d="M525.7 -79.4Q389.7 106.2 243.0 283.5" stroke="rgb(133,133,133)" stroke-width="1.14"/><path d="M358.2 -234.5Q366.6 -4.1 405.9 223.0" stroke="rgb(139,139,139)" stroke-width="1.09"/><path d="M370.2 -61.3Q250.3 136.3 171.3 353.4" stroke="rgb(145,145,145)" stroke-width="1.40"/><path d="M311.0 -73.7Q432.5 121.7 540.5 324.9" stroke="rgb(120,120,120)" stroke-width="1.36"/><path d="M489.0 -215.2Q462.4 14.4 390.2 234.1" stroke="rgb(120,120,120)" stroke-width="1.58"/><path d="M67.5 -107.1Q267.6 6.7 475.6 105.2" stroke="rgb(136,136,136)" stroke-width="1.01"/><path d="M91.9 22.3Q266.6 171.8 446.2 315.6" stroke="rgb(131,131,131)" stroke-width="1.70"/><path d="M382.4 -92.7Q375.6 138.0 331.6 364.5" stroke="rgb(123,123,123)" stroke-width="1.07"/><path d="M179.6 -6.5Q406.9 38.7 638.3 28.1" stroke="rgb(124,124,124)" stroke-width="1.80"/><path d="M59.2 -72.1Q222.4 91.2 411.1 224.2" stroke="rgb(137,137,137)" stroke-width="1.58"/><path d="M287.0 -52.4Q388.5 154.1 500.9 354.9" stroke="rgb(132,132,132)" stroke-width="1.10"/><path d="M603.5 -26.4Q421.0 114.7 219.2 226.4" stroke="rgb(135,135,135)" stroke-width="1.42"/><path d="M279.2 -199.4Q386.9 3.9 493.0 207.9" stroke="rgb(120,120,120)" stroke-width="1.50"/><path d="M491.2 -137.2Q382.1 65.4 284.4 273.7" stroke="rgb(124,124,124)" stroke-width="1.32"/><path d="M399.4 -172.6Q473.4 46.6 498.6 276.6" stroke="rgb(124,124,124)" stroke-width="1.15"/><path d="M646.2 36.2Q422.6 97.4 221.4 212.6" stroke="rgb(137,137,137)" stroke-width="1.84"/><path d="M567.8 30.1Q337.0 43.6 113.9 104.8" stroke="rgb(148,148,148)" stroke-width="1.44"/><path d="M626.8 63.3Q396.5 40.1 166.8 67.2" stroke="rgb(127,127,127)" stroke-width="1.84"/><path d="M406.3 -168.4Q267.8 15.7 110.5 183.9" stroke="rgb(134,134,134)" stroke-width="1.58"/><path d="M75.7 -47.5Q227.6 125.2 373.4 303.2" stroke="rgb(129,129,129)" stroke-width="1.67"/><path d="M172.5 -30.2Q394.3 31.7 608.5 116.5" stroke="rgb(131,131,131)" stroke-width="1.07"/><path d="M386.4 -54.8Q227.9 114.3 115.6 317.0" stroke="rgb(149,149,149)" stroke-width="1.79"/><path d="M174.4 -171.2Q304.4 18.6 430.7 210.9" stroke="rgb(134,134,134)" stroke-width="1.49"/><path d="M155.8 -31.8Q301.3 146.4 443.2 327.3" stroke="rgb(146,146,146)" stroke-width="1.73"/><path d="M473.8 -96.4Q301.7 59.0 96.0 166.1" stroke="rgb(122,122,122)" stroke-width="1.48"/><path d="M113.8 -15.5Q343.7 3.1 568.1 56.8" stroke="rgb(142,142,142)" stroke-width="1.42"/><path d="M674.6 120.3Q447.0 163.2 215.6 150.3" stroke="rgb(123,123,123)" stroke-width="1.01"/><path d="M89.6 15.7Q316.2 55.3 543.6 89.5" stroke="rgb(121,121,121)" stroke-width="1.28"/><path d="M214.7 -84.1Q287.0 134.7 331.5 360.8" stroke="rgb(119,119,119)" stroke-width="1.39"/><path d="M583.8 52.5Q357.4 97.1 141.1 177.3" stroke="rgb(125,125,125)" stroke-width="1.12"/><path d="M399.6 -93.9Q373.4 135.5 386.8 366.0" stroke="rgb(135,135,135)" stroke-width="1.25"/><path d="M354.6 -214.0Q233.2 -17.2 154.7 200.3" stroke="rgb(146,146,146)" stroke-width="1.42"/><path d="M563.2 34.9Q368.0 156.7 179.5 288.7" stroke="rgb(131,131,131)" stroke-width="1.47"/><path d="M380.7 -168.9Q230.4 7.7 129.6 216.6" stroke="rgb(135,135,135)" stroke-width="1.37"/><path d="M485.0 -59.3Q299.4 76.5 110.4 207.6" stroke="rgb(148,148,148)" stroke-width="1.14"/><path d="M226.1 -134.7Q268.7 92.3 351.9 307.8" stroke="rgb(144,144,144)" stroke-width="1.84"/><path d="M412.3 -228.1Q356.0 -5.0 305.6 219.4" stroke="rgb(133,133,133)" stroke-width="1.25"/></g>
<g fill="none" filter="url(#soft2)"><path d="M163.5 85.9Q378.0 169.9 599.9 231.4" stroke="rgb(174,174,174)" stroke-width="2.12"/><path d="M525.7 -39.3Q444.7 177.0 325.2 374.7" stroke="rgb(194,194,194)" stroke-width="1.72"/><path d="M179.5 -49.5Q318.5 134.5 430.6 335.9" stroke="rgb(196,196,196)" stroke-width="2.63"/><path d="M144.1 -115.5Q309.6 46.3 435.1 240.7" stroke="rgb(169,169,169)" stroke-width="2.68"/><path d="M47.6 -102.7Q250.9 8.7 419.7 167.7" stroke="rgb(179,179,179)" stroke-width="2.39"/><path d="M605.3 -17.8Q430.8 135.9 218.7 231.3" stroke="rgb(170,170,170)" stroke-width="2.65"/><path d="M218.9 -190.2Q247.5 38.6 243.7 269.2" stroke="rgb(180,180,180)" stroke-width="1.56"/><path d="M63.7 66.5Q258.0 192.7 477.2 267.8" stroke="rgb(166,166,166)" stroke-width="2.69"/><path d="M166.1 10.3Q387.0 81.6 581.0 209.1" stroke="rgb(188,188,188)" stroke-width="1.71"/><path d="M472.0 54.1Q271.7 171.4 47.1 230.3" stroke="rgb(196,196,196)" stroke-width="2.14"/><path d="M226.9 -206.6Q272.8 21.4 382.9 226.2" stroke="rgb(170,170,170)" stroke-width="1.66"/><path d="M146.3 -192.2Q223.2 26.5 352.0 219.2" stroke="rgb(162,162,162)" stroke-width="1.73"/><path d="M665.3 159.9Q436.9 192.2 206.2 188.9" stroke="rgb(173,173,173)" stroke-width="2.64"/><path d="M201.7 -71.4Q356.9 101.6 456.3 311.7" stroke="rgb(173,173,173)" stroke-width="2.40"/><path d="M372.8 -133.3Q396.1 95.5 424.7 323.8" stroke="rgb(176,176,176)" stroke-width="2.14"/><path d="M477.9 -192.9Q381.8 18.2 343.6 247.1" stroke="rgb(192,192,192)" stroke-width="1.72"/><path d="M242.7 29.6Q449.7 131.2 640.1 261.2" stroke="rgb(167,167,167)" stroke-width="1.56"/><path d="M656.8 -23.8Q455.4 90.6 233.1 155.3" stroke="rgb(160,160,160)" stroke-width="2.54"/><path d="M528.2 -18.6Q400.1 172.5 275.0 365.5" stroke="rgb(189,189,189)" stroke-width="1.61"/><path d="M135.9 -30.4Q338.9 77.9 548.1 173.7" stroke="rgb(172,172,172)" stroke-width="2.11"/><path d="M203.8 -158.8Q296.4 51.9 401.7 256.5" stroke="rgb(197,197,197)" stroke-width="2.62"/><path d="M274.8 -35.8Q391.5 165.2 560.4 324.8" stroke="rgb(170,170,170)" stroke-width="1.65"/><path d="M222.5 -76.4Q323.8 130.3 442.9 327.4" stroke="rgb(170,170,170)" stroke-width="2.66"/><path d="M344.1 -150.5Q295.3 75.8 298.8 307.3" stroke="rgb(197,197,197)" stroke-width="2.13"/><path d="M94.2 54.6Q319.9 99.2 543.3 154.0" stroke="rgb(192,192,192)" stroke-width="2.43"/><path d="M147.0 -66.8Q197.5 160.1 310.9 363.0" stroke="rgb(173,173,173)" stroke-width="1.76"/><path d="M294.5 -71.1Q318.8 159.0 393.3 378.1" stroke="rgb(187,187,187)" stroke-width="1.93"/><path d="M213.9 -135.0Q294.1 80.7 357.4 302.0" stroke="rgb(184,184,184)" stroke-width="2.55"/><path d="M175.1 -129.5Q358.1 10.1 529.6 163.6" stroke="rgb(183,183,183)" stroke-width="1.67"/><path d="M89.2 -129.3Q259.7 28.6 379.1 227.9" stroke="rgb(180,180,180)" stroke-width="2.61"/><path d="M538.0 8.4Q328.4 106.1 143.2 244.5" stroke="rgb(194,194,194)" stroke-width="2.03"/><path d="M589.2 -72.3Q378.5 20.3 161.5 97.0" stroke="rgb(178,178,178)" stroke-width="2.57"/><path d="M478.0 -95.9Q278.7 19.2 86.8 146.2" stroke="rgb(163,163,163)" stroke-width="1.53"/><path d="M496.4 -124.2Q308.7 10.5 98.7 106.9" stroke="rgb(170,170,170)" stroke-width="1.97"/><path d="M425.7 -141.5Q325.0 65.6 244.8 281.5" stroke="rgb(176,176,176)" stroke-width="1.62"/><path d="M223.0 58.2Q446.2 113.9 667.2 177.5" stroke="rgb(188,188,188)" stroke-width="2.69"/><path d="M216.0 -237.8Q236.0 -8.6 245.0 221.3" stroke="rgb(193,193,193)" stroke-width="2.49"/><path d="M352.1 -154.8Q266.9 60.5 233.7 289.7" stroke="rgb(167,167,167)" stroke-width="1.97"/><path d="M6.6 89.5Q233.2 139.0 465.0 127.8" stroke="rgb(179,179,179)" stroke-width="2.19"/><path d="M212.5 -195.9Q210.1 35.4 257.6 261.9" stroke="rgb(180,180,180)" stroke-width="1.84"/><path d="M466.3 -116.7Q466.5 114.2 425.3 341.5" stroke="rgb(171,171,171)" stroke-width="2.58"/><path d="M330.9 -125.5Q255.7 92.1 161.6 302.2" stroke="rgb(189,189,189)" stroke-width="2.59"/><path d="M232.0 -10.7Q434.9 101.8 601.1 263.8" stroke="rgb(176,176,176)" stroke-width="1.87"/><path d="M81.6 6.8Q246.4 168.8 439.6 295.6" stroke="rgb(195,195,195)" stroke-width="1.64"/></g>
</g>
<rect x="223.2" y="2" width="21.8" height="23" fill="#fff"/>
<text x="229.00" y="21.40" font-size="22" text-anchor="start" font-weight="bold" fill="#000" >b</text>
<rect x="394.9" y="139.2" width="39.1" height="21.4" fill="#fff"/>
<rect x="399.5" y="142.4" width="30.3" height="3.2" fill="#000"/>
<text x="414.50" y="156.60" font-size="10.3" text-anchor="middle" font-weight="bold" fill="#000" >5 µm</text>
<text x="6.30" y="185.40" font-size="22" text-anchor="start" font-weight="bold" fill="#000" >c</text>
<rect x="44.67" y="221.80" width="7.2" height="100.80" fill="#4b2390" stroke="#2a1260" stroke-width="0.4"/>
<rect x="51.88" y="257.68" width="7.4" height="64.92" fill="#e8452c" stroke="#a02818" stroke-width="0.4"/>
<path d="M48.27 206.42V238.88M47.07 206.42h2.4M47.07 238.88h2.4" stroke="#555" stroke-width="0.7" fill="none"/>
<path d="M55.58 250.84V264.51M54.38 250.84h2.4M54.38 264.51h2.4" stroke="#555" stroke-width="0.7" fill="none"/>
<rect x="62.55" y="299.54" width="7.2" height="23.06" fill="#4b2390" stroke="#2a1260" stroke-width="0.4"/>
<rect x="69.75" y="292.19" width="7.4" height="30.41" fill="#e8452c" stroke="#a02818" stroke-width="0.4"/>
<path d="M66.15 296.12V302.10M64.95 296.12h2.4M64.95 302.10h2.4" stroke="#555" stroke-width="0.7" fill="none"/>
<path d="M73.45 290.48V293.90M72.25 290.48h2.4M72.25 293.90h2.4" stroke="#555" stroke-width="0.7" fill="none"/>
<rect x="80.42" y="314.57" width="7.2" height="8.03" fill="#4b2390" stroke="#2a1260" stroke-width="0.4"/>
<rect x="87.62" y="304.66" width="7.4" height="17.94" fill="#e8452c" stroke="#a02818" stroke-width="0.4"/>
<path d="M90.12 304.36h2.4" stroke="#444" stroke-width="0.7"/>
<rect x="98.30" y="316.11" width="7.2" height="6.49" fill="#4b2390" stroke="#2a1260" stroke-width="0.4"/>
<rect x="105.50" y="310.98" width="7.4" height="11.62" fill="#e8452c" stroke="#a02818" stroke-width="0.4"/>
<path d="M108.00 310.68h2.4" stroke="#444" stroke-width="0.7"/>
<rect x="116.17" y="316.79" width="7.2" height="5.81" fill="#4b2390" stroke="#2a1260" stroke-width="0.4"/>
<rect x="123.38" y="313.54" width="7.4" height="9.06" fill="#e8452c" stroke="#a02818" stroke-width="0.4"/>
<path d="M125.88 313.24h2.4" stroke="#444" stroke-width="0.7"/>
<rect x="134.05" y="316.96" width="7.2" height="5.64" fill="#4b2390" stroke="#2a1260" stroke-width="0.4"/>
<rect x="141.25" y="314.74" width="7.4" height="7.86" fill="#e8452c" stroke="#a02818" stroke-width="0.4"/>
<path d="M143.75 314.44h2.4" stroke="#444" stroke-width="0.7"/>
<rect x="151.93" y="316.96" width="7.2" height="5.64" fill="#4b2390" stroke="#2a1260" stroke-width="0.4"/>
<rect x="159.12" y="314.91" width="7.4" height="7.69" fill="#e8452c" stroke="#a02818" stroke-width="0.4"/>
<path d="M161.62 314.61h2.4" stroke="#444" stroke-width="0.7"/>
<rect x="169.80" y="316.96" width="7.2" height="5.64" fill="#4b2390" stroke="#2a1260" stroke-width="0.4"/>
<rect x="177.00" y="315.25" width="7.4" height="7.35" fill="#e8452c" stroke="#a02818" stroke-width="0.4"/>
<path d="M179.50 314.95h2.4" stroke="#444" stroke-width="0.7"/>
<rect x="187.68" y="316.96" width="7.2" height="5.64" fill="#4b2390" stroke="#2a1260" stroke-width="0.4"/>
<rect x="194.88" y="315.25" width="7.4" height="7.35" fill="#e8452c" stroke="#a02818" stroke-width="0.4"/>
<path d="M197.38 314.95h2.4" stroke="#444" stroke-width="0.7"/>
<path d="M42.6 185.2H211.9V322.6" stroke="#8a8a8a" stroke-width="0.8" fill="none"/>
<path d="M42.6 185.2V322.6H211.9" stroke="#333" stroke-width="1.1" fill="none"/>
<path d="M40.1 322.60h3.5M40.1 288.43h3.5M40.1 254.26h3.5M40.1 220.09h3.5M40.1 185.92h3.5M42.6 305.52h1.8M42.6 271.35h1.8M42.6 237.18h1.8M42.6 203.01h1.8M69.75 322.6v2.8M105.50 322.6v2.8M141.25 322.6v2.8M177.00 322.6v2.8M212.75 322.6v2.8M51.88 322.6v1.6M87.62 322.6v1.6M123.38 322.6v1.6M159.12 322.6v1.6M194.88 322.6v1.6" stroke="#222" stroke-width="0.8" fill="none"/>
<text x="38.50" y="325.10" font-size="8.8" text-anchor="end" fill="#1a1a1a" >0</text>
<text x="38.50" y="290.93" font-size="8.8" text-anchor="end" fill="#1a1a1a" >20</text>
<text x="38.50" y="256.76" font-size="8.8" text-anchor="end" fill="#1a1a1a" >40</text>
<text x="38.50" y="222.59" font-size="8.8" text-anchor="end" fill="#1a1a1a" >60</text>
<text x="38.50" y="188.42" font-size="8.8" text-anchor="end" fill="#1a1a1a" >80</text>
<text x="69.75" y="334.30" font-size="8.8" text-anchor="middle" fill="#1a1a1a" >20</text>
<text x="105.50" y="334.30" font-size="8.8" text-anchor="middle" fill="#1a1a1a" >40</text>
<text x="141.25" y="334.30" font-size="8.8" text-anchor="middle" fill="#1a1a1a" >60</text>
<text x="177.00" y="334.30" font-size="8.8" text-anchor="middle" fill="#1a1a1a" >80</text>
<text x="212.75" y="334.30" font-size="8.8" text-anchor="middle" fill="#1a1a1a" >100</text>
<rect x="139" y="187" width="19.8" height="10.1" fill="#4b2390"/>
<rect x="139" y="198.3" width="19.8" height="9.4" fill="#e8452c"/>
<text x="161.20" y="196.00" font-size="9.1" text-anchor="start" fill="#1a1a1a" >parrallel bar</text>
<text x="161.20" y="206.80" font-size="9.1" text-anchor="start" fill="#1a1a1a" >drum</text>
<text x="99.40" y="354.80" font-size="15.3" text-anchor="start" fill="#1a1a1a" >Angle [°]</text>
<text transform="translate(22.60,321.10) rotate(-90)" font-size="15.5" text-anchor="start" fill="#1a1a1a" >Fiber alignment [%]</text>
<text x="229.60" y="184.10" font-size="22" text-anchor="start" font-weight="bold" fill="#000" >d</text>
<circle cx="263.6" cy="216.4" r="1.45" fill="#a3281e"/><circle cx="266.4" cy="216.5" r="1.45" fill="#a3281e"/><circle cx="269.0" cy="216.5" r="1.45" fill="#a3281e"/><circle cx="271.3" cy="216.2" r="1.45" fill="#a3281e"/><circle cx="274.0" cy="216.7" r="1.45" fill="#a3281e"/><circle cx="276.3" cy="216.7" r="1.45" fill="#a3281e"/><circle cx="278.9" cy="216.5" r="1.45" fill="#a3281e"/><circle cx="281.7" cy="216.6" r="1.45" fill="#a3281e"/><circle cx="284.1" cy="216.3" r="1.45" fill="#a3281e"/><circle cx="287.1" cy="216.5" r="1.45" fill="#a3281e"/><circle cx="289.3" cy="216.8" r="1.45" fill="#a3281e"/><circle cx="291.9" cy="216.8" r="1.45" fill="#a3281e"/><circle cx="294.5" cy="216.8" r="1.45" fill="#a3281e"/><circle cx="297.5" cy="216.5" r="1.45" fill="#a3281e"/><circle cx="307.2" cy="216.7" r="1.45" fill="#a3281e"/><circle cx="310.2" cy="217.2" r="1.45" fill="#a3281e"/><circle cx="312.9" cy="216.8" r="1.45" fill="#a3281e"/><circle cx="315.3" cy="217.0" r="1.45" fill="#a3281e"/><circle cx="318.1" cy="216.9" r="1.45" fill="#a3281e"/><circle cx="328.0" cy="217.2" r="1.45" fill="#a3281e"/><circle cx="336.2" cy="217.4" r="1.45" fill="#a3281e"/><circle cx="338.7" cy="217.2" r="1.45" fill="#a3281e"/><circle cx="341.2" cy="217.1" r="1.45" fill="#a3281e"/><circle cx="344.2" cy="217.3" r="1.45" fill="#a3281e"/><circle cx="346.8" cy="217.1" r="1.45" fill="#a3281e"/><circle cx="349.2" cy="217.3" r="1.45" fill="#a3281e"/><circle cx="351.9" cy="217.6" r="1.45" fill="#a3281e"/><circle cx="354.5" cy="217.4" r="1.45" fill="#a3281e"/><circle cx="367.1" cy="217.8" r="1.45" fill="#a3281e"/><circle cx="372.1" cy="218.0" r="1.45" fill="#a3281e"/><circle cx="381.4" cy="218.0" r="1.45" fill="#a3281e"/><circle cx="384.0" cy="217.6" r="1.45" fill="#a3281e"/><circle cx="386.4" cy="217.8" r="1.45" fill="#a3281e"/><circle cx="388.7" cy="217.7" r="1.45" fill="#a3281e"/><circle cx="391.9" cy="217.8" r="1.45" fill="#a3281e"/><circle cx="394.4" cy="217.8" r="1.45" fill="#a3281e"/><circle cx="397.1" cy="218.2" r="1.45" fill="#a3281e"/><circle cx="399.8" cy="218.0" r="1.45" fill="#a3281e"/><circle cx="402.7" cy="218.1" r="1.45" fill="#a3281e"/><circle cx="405.2" cy="217.9" r="1.45" fill="#a3281e"/><circle cx="407.9" cy="218.3" r="1.45" fill="#a3281e"/><circle cx="410.6" cy="218.0" r="1.45" fill="#a3281e"/><circle cx="412.8" cy="218.0" r="1.45" fill="#a3281e"/><circle cx="415.8" cy="218.3" r="1.45" fill="#a3281e"/><circle cx="420.5" cy="218.3" r="1.45" fill="#a3281e"/><circle cx="422.7" cy="218.4" r="1.45" fill="#a3281e"/><circle cx="425.2" cy="218.3" r="1.45" fill="#a3281e"/>
<circle cx="263.3" cy="240.0" r="1.6" fill="#3f2390"/><circle cx="264.7" cy="240.6" r="1.6" fill="#3f2390"/><circle cx="265.0" cy="240.1" r="1.6" fill="#3f2390"/><circle cx="266.2" cy="240.9" r="1.6" fill="#3f2390"/><circle cx="266.9" cy="240.4" r="1.6" fill="#3f2390"/><circle cx="268.2" cy="240.6" r="1.6" fill="#3f2390"/><circle cx="268.9" cy="240.4" r="1.6" fill="#3f2390"/><circle cx="270.0" cy="240.0" r="1.6" fill="#3f2390"/><circle cx="270.7" cy="240.0" r="1.6" fill="#3f2390"/><circle cx="271.4" cy="240.8" r="1.6" fill="#3f2390"/><circle cx="272.8" cy="240.7" r="1.6" fill="#3f2390"/><circle cx="273.6" cy="240.7" r="1.6" fill="#3f2390"/><circle cx="274.3" cy="240.1" r="1.6" fill="#3f2390"/><circle cx="275.4" cy="240.2" r="1.6" fill="#3f2390"/><circle cx="276.1" cy="240.3" r="1.6" fill="#3f2390"/><circle cx="277.2" cy="241.1" r="1.6" fill="#3f2390"/><circle cx="277.9" cy="241.1" r="1.6" fill="#3f2390"/><circle cx="278.9" cy="240.6" r="1.6" fill="#3f2390"/><circle cx="279.6" cy="240.6" r="1.6" fill="#3f2390"/><circle cx="280.4" cy="240.5" r="1.6" fill="#3f2390"/><circle cx="281.8" cy="240.5" r="1.6" fill="#3f2390"/><circle cx="282.5" cy="241.1" r="1.6" fill="#3f2390"/><circle cx="283.2" cy="240.6" r="1.6" fill="#3f2390"/><circle cx="284.1" cy="240.2" r="1.6" fill="#3f2390"/><circle cx="285.3" cy="240.9" r="1.6" fill="#3f2390"/><circle cx="286.2" cy="240.5" r="1.6" fill="#3f2390"/><circle cx="287.0" cy="241.0" r="1.6" fill="#3f2390"/><circle cx="288.0" cy="240.9" r="1.6" fill="#3f2390"/><circle cx="288.8" cy="240.6" r="1.6" fill="#3f2390"/><circle cx="289.6" cy="240.5" r="1.6" fill="#3f2390"/><circle cx="290.6" cy="241.0" r="1.6" fill="#3f2390"/><circle cx="291.7" cy="240.5" r="1.6" fill="#3f2390"/><circle cx="292.3" cy="240.9" r="1.6" fill="#3f2390"/><circle cx="293.2" cy="240.3" r="1.6" fill="#3f2390"/><circle cx="294.2" cy="240.5" r="1.6" fill="#3f2390"/><circle cx="295.2" cy="240.7" r="1.6" fill="#3f2390"/><circle cx="296.1" cy="240.9" r="1.6" fill="#3f2390"/><circle cx="296.9" cy="240.6" r="1.6" fill="#3f2390"/><circle cx="297.9" cy="241.0" r="1.6" fill="#3f2390"/><circle cx="298.8" cy="240.7" r="1.6" fill="#3f2390"/><circle cx="299.6" cy="241.2" r="1.6" fill="#3f2390"/><circle cx="300.7" cy="241.3" r="1.6" fill="#3f2390"/><circle cx="301.3" cy="240.9" r="1.6" fill="#3f2390"/><circle cx="302.4" cy="240.5" r="1.6" fill="#3f2390"/><circle cx="303.1" cy="241.3" r="1.6" fill="#3f2390"/><circle cx="304.1" cy="241.1" r="1.6" fill="#3f2390"/><circle cx="304.7" cy="241.1" r="1.6" fill="#3f2390"/><circle cx="305.8" cy="241.2" r="1.6" fill="#3f2390"/><circle cx="306.7" cy="241.1" r="1.6" fill="#3f2390"/><circle cx="307.8" cy="241.0" r="1.6" fill="#3f2390"/><circle cx="308.6" cy="241.1" r="1.6" fill="#3f2390"/><circle cx="309.2" cy="240.5" r="1.6" fill="#3f2390"/><circle cx="310.4" cy="240.9" r="1.6" fill="#3f2390"/><circle cx="311.3" cy="240.7" r="1.6" fill="#3f2390"/><circle cx="311.8" cy="241.1" r="1.6" fill="#3f2390"/><circle cx="312.8" cy="241.0" r="1.6" fill="#3f2390"/><circle cx="313.7" cy="240.6" r="1.6" fill="#3f2390"/><circle cx="314.6" cy="240.8" r="1.6" fill="#3f2390"/><circle cx="315.4" cy="240.7" r="1.6" fill="#3f2390"/><circle cx="316.5" cy="241.0" r="1.6" fill="#3f2390"/><circle cx="317.6" cy="241.2" r="1.6" fill="#3f2390"/><circle cx="318.6" cy="240.8" r="1.6" fill="#3f2390"/><circle cx="319.2" cy="240.6" r="1.6" fill="#3f2390"/><circle cx="320.1" cy="240.8" r="1.6" fill="#3f2390"/><circle cx="321.3" cy="240.7" r="1.6" fill="#3f2390"/><circle cx="321.7" cy="241.0" r="1.6" fill="#3f2390"/><circle cx="322.7" cy="241.2" r="1.6" fill="#3f2390"/><circle cx="323.7" cy="241.2" r="1.6" fill="#3f2390"/><circle cx="325.0" cy="241.2" r="1.6" fill="#3f2390"/><circle cx="325.6" cy="241.5" r="1.6" fill="#3f2390"/><circle cx="326.6" cy="241.5" r="1.6" fill="#3f2390"/><circle cx="327.2" cy="241.0" r="1.6" fill="#3f2390"/><circle cx="328.3" cy="241.3" r="1.6" fill="#3f2390"/><circle cx="329.5" cy="241.6" r="1.6" fill="#3f2390"/><circle cx="330.0" cy="241.3" r="1.6" fill="#3f2390"/><circle cx="330.7" cy="241.6" r="1.6" fill="#3f2390"/><circle cx="331.9" cy="240.8" r="1.6" fill="#3f2390"/><circle cx="332.6" cy="241.3" r="1.6" fill="#3f2390"/><circle cx="333.9" cy="241.4" r="1.6" fill="#3f2390"/><circle cx="334.6" cy="241.1" r="1.6" fill="#3f2390"/><circle cx="335.4" cy="241.0" r="1.6" fill="#3f2390"/><circle cx="336.3" cy="241.7" r="1.6" fill="#3f2390"/><circle cx="337.5" cy="241.7" r="1.6" fill="#3f2390"/><circle cx="338.1" cy="241.4" r="1.6" fill="#3f2390"/><circle cx="339.1" cy="241.8" r="1.6" fill="#3f2390"/><circle cx="339.9" cy="241.2" r="1.6" fill="#3f2390"/><circle cx="340.9" cy="241.8" r="1.6" fill="#3f2390"/><circle cx="341.8" cy="241.1" r="1.6" fill="#3f2390"/><circle cx="342.8" cy="241.0" r="1.6" fill="#3f2390"/><circle cx="343.5" cy="241.3" r="1.6" fill="#3f2390"/><circle cx="344.7" cy="241.6" r="1.6" fill="#3f2390"/><circle cx="345.4" cy="240.9" r="1.6" fill="#3f2390"/><circle cx="346.6" cy="241.2" r="1.6" fill="#3f2390"/><circle cx="347.0" cy="241.7" r="1.6" fill="#3f2390"/><circle cx="347.9" cy="241.2" r="1.6" fill="#3f2390"/><circle cx="348.9" cy="241.9" r="1.6" fill="#3f2390"/><circle cx="349.9" cy="241.5" r="1.6" fill="#3f2390"/><circle cx="350.9" cy="241.6" r="1.6" fill="#3f2390"/><circle cx="351.5" cy="241.7" r="1.6" fill="#3f2390"/><circle cx="352.5" cy="241.7" r="1.6" fill="#3f2390"/><circle cx="353.4" cy="241.5" r="1.6" fill="#3f2390"/><circle cx="354.4" cy="241.3" r="1.6" fill="#3f2390"/><circle cx="355.2" cy="241.4" r="1.6" fill="#3f2390"/><circle cx="356.3" cy="241.7" r="1.6" fill="#3f2390"/><circle cx="357.0" cy="241.0" r="1.6" fill="#3f2390"/><circle cx="358.2" cy="241.5" r="1.6" fill="#3f2390"/><circle cx="358.9" cy="241.9" r="1.6" fill="#3f2390"/><circle cx="360.0" cy="241.0" r="1.6" fill="#3f2390"/><circle cx="360.7" cy="241.5" r="1.6" fill="#3f2390"/><circle cx="361.7" cy="241.8" r="1.6" fill="#3f2390"/><circle cx="362.7" cy="241.5" r="1.6" fill="#3f2390"/><circle cx="363.3" cy="241.5" r="1.6" fill="#3f2390"/><circle cx="364.1" cy="241.9" r="1.6" fill="#3f2390"/><circle cx="365.4" cy="241.4" r="1.6" fill="#3f2390"/><circle cx="366.3" cy="241.2" r="1.6" fill="#3f2390"/><circle cx="367.0" cy="241.8" r="1.6" fill="#3f2390"/><circle cx="368.1" cy="241.4" r="1.6" fill="#3f2390"/><circle cx="368.6" cy="242.1" r="1.6" fill="#3f2390"/><circle cx="369.7" cy="241.6" r="1.6" fill="#3f2390"/><circle cx="370.5" cy="241.7" r="1.6" fill="#3f2390"/><circle cx="371.6" cy="241.3" r="1.6" fill="#3f2390"/><circle cx="372.1" cy="242.0" r="1.6" fill="#3f2390"/><circle cx="373.5" cy="241.4" r="1.6" fill="#3f2390"/><circle cx="374.3" cy="242.0" r="1.6" fill="#3f2390"/><circle cx="375.2" cy="241.2" r="1.6" fill="#3f2390"/><circle cx="376.3" cy="242.2" r="1.6" fill="#3f2390"/><circle cx="376.6" cy="241.9" r="1.6" fill="#3f2390"/><circle cx="377.6" cy="242.1" r="1.6" fill="#3f2390"/><circle cx="379.0" cy="241.9" r="1.6" fill="#3f2390"/><circle cx="379.4" cy="242.0" r="1.6" fill="#3f2390"/><circle cx="380.8" cy="241.6" r="1.6" fill="#3f2390"/><circle cx="381.5" cy="241.4" r="1.6" fill="#3f2390"/><circle cx="382.1" cy="241.7" r="1.6" fill="#3f2390"/><circle cx="382.9" cy="241.9" r="1.6" fill="#3f2390"/><circle cx="384.0" cy="241.4" r="1.6" fill="#3f2390"/><circle cx="384.7" cy="241.4" r="1.6" fill="#3f2390"/><circle cx="386.0" cy="241.9" r="1.6" fill="#3f2390"/><circle cx="386.6" cy="242.2" r="1.6" fill="#3f2390"/><circle cx="387.6" cy="241.8" r="1.6" fill="#3f2390"/><circle cx="388.6" cy="242.0" r="1.6" fill="#3f2390"/><circle cx="389.4" cy="242.3" r="1.6" fill="#3f2390"/><circle cx="390.5" cy="241.4" r="1.6" fill="#3f2390"/><circle cx="391.4" cy="241.6" r="1.6" fill="#3f2390"/><circle cx="392.4" cy="241.9" r="1.6" fill="#3f2390"/><circle cx="393.2" cy="242.0" r="1.6" fill="#3f2390"/><circle cx="394.0" cy="241.7" r="1.6" fill="#3f2390"/><circle cx="395.1" cy="241.7" r="1.6" fill="#3f2390"/><circle cx="395.6" cy="242.0" r="1.6" fill="#3f2390"/><circle cx="396.6" cy="241.7" r="1.6" fill="#3f2390"/><circle cx="397.4" cy="242.2" r="1.6" fill="#3f2390"/><circle cx="398.6" cy="242.2" r="1.6" fill="#3f2390"/><circle cx="399.5" cy="241.6" r="1.6" fill="#3f2390"/><circle cx="400.1" cy="241.6" r="1.6" fill="#3f2390"/><circle cx="401.0" cy="242.1" r="1.6" fill="#3f2390"/><circle cx="402.1" cy="242.4" r="1.6" fill="#3f2390"/><circle cx="403.2" cy="241.9" r="1.6" fill="#3f2390"/><circle cx="404.0" cy="241.6" r="1.6" fill="#3f2390"/><circle cx="404.6" cy="241.6" r="1.6" fill="#3f2390"/><circle cx="405.8" cy="242.5" r="1.6" fill="#3f2390"/><circle cx="406.4" cy="241.8" r="1.6" fill="#3f2390"/><circle cx="407.6" cy="242.6" r="1.6" fill="#3f2390"/><circle cx="408.2" cy="242.4" r="1.6" fill="#3f2390"/><circle cx="409.2" cy="242.2" r="1.6" fill="#3f2390"/><circle cx="410.1" cy="241.9" r="1.6" fill="#3f2390"/><circle cx="411.0" cy="242.3" r="1.6" fill="#3f2390"/><circle cx="411.8" cy="242.0" r="1.6" fill="#3f2390"/><circle cx="413.0" cy="242.5" r="1.6" fill="#3f2390"/><circle cx="413.8" cy="242.5" r="1.6" fill="#3f2390"/><circle cx="414.7" cy="242.5" r="1.6" fill="#3f2390"/><circle cx="415.6" cy="242.3" r="1.6" fill="#3f2390"/><circle cx="416.4" cy="242.4" r="1.6" fill="#3f2390"/><circle cx="417.1" cy="241.8" r="1.6" fill="#3f2390"/><circle cx="418.0" cy="241.9" r="1.6" fill="#3f2390"/><circle cx="419.2" cy="242.6" r="1.6" fill="#3f2390"/><circle cx="419.8" cy="242.5" r="1.6" fill="#3f2390"/><circle cx="421.2" cy="242.2" r="1.6" fill="#3f2390"/><circle cx="421.9" cy="242.4" r="1.6" fill="#3f2390"/><circle cx="422.6" cy="242.2" r="1.6" fill="#3f2390"/><circle cx="423.5" cy="241.9" r="1.6" fill="#3f2390"/><circle cx="424.5" cy="242.2" r="1.6" fill="#3f2390"/>
<circle cx="263.3" cy="261.7" r="1.75" fill="none" stroke="#a3281e" stroke-width="0.75"/><circle cx="265.9" cy="260.4" r="1.75" fill="none" stroke="#a3281e" stroke-width="0.75"/><circle cx="268.4" cy="260.2" r="1.75" fill="none" stroke="#a3281e" stroke-width="0.75"/><circle cx="271.0" cy="260.3" r="1.75" fill="none" stroke="#a3281e" stroke-width="0.75"/><circle cx="273.8" cy="259.9" r="1.75" fill="none" stroke="#a3281e" stroke-width="0.75"/><circle cx="276.3" cy="260.7" r="1.75" fill="none" stroke="#a3281e" stroke-width="0.75"/><circle cx="278.6" cy="261.4" r="1.75" fill="none" stroke="#a3281e" stroke-width="0.75"/><circle cx="281.3" cy="260.9" r="1.75" fill="none" stroke="#a3281e" stroke-width="0.75"/><circle cx="283.6" cy="260.1" r="1.75" fill="none" stroke="#a3281e" stroke-width="0.75"/><circle cx="286.1" cy="260.5" r="1.75" fill="none" stroke="#a3281e" stroke-width="0.75"/><circle cx="288.3" cy="261.5" r="1.75" fill="none" stroke="#a3281e" stroke-width="0.75"/><circle cx="290.7" cy="260.3" r="1.75" fill="none" stroke="#a3281e" stroke-width="0.75"/><circle cx="293.2" cy="260.4" r="1.75" fill="none" stroke="#a3281e" stroke-width="0.75"/><circle cx="296.3" cy="260.8" r="1.75" fill="none" stroke="#a3281e" stroke-width="0.75"/><circle cx="298.4" cy="260.7" r="1.75" fill="none" stroke="#a3281e" stroke-width="0.75"/><circle cx="306.7" cy="261.0" r="1.75" fill="none" stroke="#a3281e" stroke-width="0.75"/><circle cx="309.4" cy="261.6" r="1.75" fill="none" stroke="#a3281e" stroke-width="0.75"/><circle cx="311.6" cy="260.3" r="1.75" fill="none" stroke="#a3281e" stroke-width="0.75"/><circle cx="314.6" cy="261.5" r="1.75" fill="none" stroke="#a3281e" stroke-width="0.75"/><circle cx="316.8" cy="261.4" r="1.75" fill="none" stroke="#a3281e" stroke-width="0.75"/><circle cx="319.0" cy="262.2" r="1.75" fill="none" stroke="#a3281e" stroke-width="0.75"/><circle cx="327.2" cy="260.2" r="1.75" fill="none" stroke="#a3281e" stroke-width="0.75"/><circle cx="334.9" cy="261.0" r="1.75" fill="none" stroke="#a3281e" stroke-width="0.75"/><circle cx="338.0" cy="261.3" r="1.75" fill="none" stroke="#a3281e" stroke-width="0.75"/><circle cx="340.1" cy="261.2" r="1.75" fill="none" stroke="#a3281e" stroke-width="0.75"/><circle cx="342.4" cy="260.3" r="1.75" fill="none" stroke="#a3281e" stroke-width="0.75"/><circle cx="345.2" cy="262.1" r="1.75" fill="none" stroke="#a3281e" stroke-width="0.75"/><circle cx="347.4" cy="262.2" r="1.75" fill="none" stroke="#a3281e" stroke-width="0.75"/><circle cx="349.9" cy="260.7" r="1.75" fill="none" stroke="#a3281e" stroke-width="0.75"/><circle cx="352.4" cy="261.0" r="1.75" fill="none" stroke="#a3281e" stroke-width="0.75"/><circle cx="366.9" cy="260.7" r="1.75" fill="none" stroke="#a3281e" stroke-width="0.75"/><circle cx="369.2" cy="260.9" r="1.75" fill="none" stroke="#a3281e" stroke-width="0.75"/><circle cx="372.3" cy="260.3" r="1.75" fill="none" stroke="#a3281e" stroke-width="0.75"/><circle cx="380.6" cy="260.6" r="1.75" fill="none" stroke="#a3281e" stroke-width="0.75"/><circle cx="383.1" cy="261.1" r="1.75" fill="none" stroke="#a3281e" stroke-width="0.75"/><circle cx="385.5" cy="260.4" r="1.75" fill="none" stroke="#a3281e" stroke-width="0.75"/><circle cx="388.1" cy="260.5" r="1.75" fill="none" stroke="#a3281e" stroke-width="0.75"/><circle cx="390.7" cy="262.3" r="1.75" fill="none" stroke="#a3281e" stroke-width="0.75"/><circle cx="392.9" cy="262.2" r="1.75" fill="none" stroke="#a3281e" stroke-width="0.75"/><circle cx="395.6" cy="260.3" r="1.75" fill="none" stroke="#a3281e" stroke-width="0.75"/><circle cx="399.5" cy="261.4" r="1.75" fill="none" stroke="#a3281e" stroke-width="0.75"/><circle cx="402.1" cy="261.1" r="1.75" fill="none" stroke="#a3281e" stroke-width="0.75"/><circle cx="404.7" cy="261.9" r="1.75" fill="none" stroke="#a3281e" stroke-width="0.75"/><circle cx="407.0" cy="261.0" r="1.75" fill="none" stroke="#a3281e" stroke-width="0.75"/><circle cx="409.3" cy="262.2" r="1.75" fill="none" stroke="#a3281e" stroke-width="0.75"/><circle cx="411.9" cy="260.6" r="1.75" fill="none" stroke="#a3281e" stroke-width="0.75"/><circle cx="414.7" cy="260.6" r="1.75" fill="none" stroke="#a3281e" stroke-width="0.75"/><circle cx="416.9" cy="262.2" r="1.75" fill="none" stroke="#a3281e" stroke-width="0.75"/><circle cx="419.9" cy="260.7" r="1.75" fill="none" stroke="#a3281e" stroke-width="0.75"/><circle cx="422.5" cy="260.9" r="1.75" fill="none" stroke="#a3281e" stroke-width="0.75"/><circle cx="425.2" cy="261.3" r="1.75" fill="none" stroke="#a3281e" stroke-width="0.75"/><circle cx="427.4" cy="260.9" r="1.75" fill="none" stroke="#a3281e" stroke-width="0.75"/>
<circle cx="263.2" cy="273.8" r="1.6" fill="none" stroke="#4a34a0" stroke-width="0.75"/><circle cx="265.4" cy="273.3" r="1.6" fill="none" stroke="#4a34a0" stroke-width="0.75"/><circle cx="267.3" cy="273.5" r="1.6" fill="none" stroke="#4a34a0" stroke-width="0.75"/><circle cx="269.4" cy="273.6" r="1.6" fill="none" stroke="#4a34a0" stroke-width="0.75"/><circle cx="271.5" cy="273.9" r="1.6" fill="none" stroke="#4a34a0" stroke-width="0.75"/><circle cx="273.6" cy="274.1" r="1.6" fill="none" stroke="#4a34a0" stroke-width="0.75"/><circle cx="275.5" cy="274.0" r="1.6" fill="none" stroke="#4a34a0" stroke-width="0.75"/><circle cx="277.7" cy="273.7" r="1.6" fill="none" stroke="#4a34a0" stroke-width="0.75"/><circle cx="279.8" cy="273.9" r="1.6" fill="none" stroke="#4a34a0" stroke-width="0.75"/><circle cx="281.6" cy="274.0" r="1.6" fill="none" stroke="#4a34a0" stroke-width="0.75"/><circle cx="283.7" cy="273.5" r="1.6" fill="none" stroke="#4a34a0" stroke-width="0.75"/><circle cx="285.3" cy="273.7" r="1.6" fill="none" stroke="#4a34a0" stroke-width="0.75"/><circle cx="287.3" cy="273.4" r="1.6" fill="none" stroke="#4a34a0" stroke-width="0.75"/><circle cx="289.6" cy="273.6" r="1.6" fill="none" stroke="#4a34a0" stroke-width="0.75"/><circle cx="291.2" cy="273.6" r="1.6" fill="none" stroke="#4a34a0" stroke-width="0.75"/><circle cx="293.5" cy="274.1" r="1.6" fill="none" stroke="#4a34a0" stroke-width="0.75"/><circle cx="295.2" cy="273.4" r="1.6" fill="none" stroke="#4a34a0" stroke-width="0.75"/><circle cx="297.4" cy="273.5" r="1.6" fill="none" stroke="#4a34a0" stroke-width="0.75"/><circle cx="299.8" cy="274.3" r="1.6" fill="none" stroke="#4a34a0" stroke-width="0.75"/><circle cx="301.3" cy="274.0" r="1.6" fill="none" stroke="#4a34a0" stroke-width="0.75"/><circle cx="303.4" cy="273.9" r="1.6" fill="none" stroke="#4a34a0" stroke-width="0.75"/><circle cx="305.2" cy="273.8" r="1.6" fill="none" stroke="#4a34a0" stroke-width="0.75"/><circle cx="307.7" cy="274.1" r="1.6" fill="none" stroke="#4a34a0" stroke-width="0.75"/><circle cx="309.3" cy="274.2" r="1.6" fill="none" stroke="#4a34a0" stroke-width="0.75"/><circle cx="311.3" cy="274.0" r="1.6" fill="none" stroke="#4a34a0" stroke-width="0.75"/><circle cx="313.5" cy="274.2" r="1.6" fill="none" stroke="#4a34a0" stroke-width="0.75"/><circle cx="315.7" cy="274.5" r="1.6" fill="none" stroke="#4a34a0" stroke-width="0.75"/><circle cx="317.4" cy="273.7" r="1.6" fill="none" stroke="#4a34a0" stroke-width="0.75"/><circle cx="319.5" cy="274.5" r="1.6" fill="none" stroke="#4a34a0" stroke-width="0.75"/><circle cx="321.5" cy="274.0" r="1.6" fill="none" stroke="#4a34a0" stroke-width="0.75"/><circle cx="323.8" cy="274.4" r="1.6" fill="none" stroke="#4a34a0" stroke-width="0.75"/><circle cx="325.8" cy="274.2" r="1.6" fill="none" stroke="#4a34a0" stroke-width="0.75"/><circle cx="327.3" cy="274.3" r="1.6" fill="none" stroke="#4a34a0" stroke-width="0.75"/><circle cx="329.5" cy="274.5" r="1.6" fill="none" stroke="#4a34a0" stroke-width="0.75"/><circle cx="331.8" cy="273.7" r="1.6" fill="none" stroke="#4a34a0" stroke-width="0.75"/><circle cx="333.5" cy="273.7" r="1.6" fill="none" stroke="#4a34a0" stroke-width="0.75"/><circle cx="335.7" cy="274.2" r="1.6" fill="none" stroke="#4a34a0" stroke-width="0.75"/><circle cx="337.3" cy="274.1" r="1.6" fill="none" stroke="#4a34a0" stroke-width="0.75"/><circle cx="339.3" cy="274.0" r="1.6" fill="none" stroke="#4a34a0" stroke-width="0.75"/><circle cx="341.4" cy="274.3" r="1.6" fill="none" stroke="#4a34a0" stroke-width="0.75"/><circle cx="343.3" cy="274.5" r="1.6" fill="none" stroke="#4a34a0" stroke-width="0.75"/><circle cx="345.3" cy="274.2" r="1.6" fill="none" stroke="#4a34a0" stroke-width="0.75"/><circle cx="347.7" cy="274.8" r="1.6" fill="none" stroke="#4a34a0" stroke-width="0.75"/><circle cx="349.6" cy="274.7" r="1.6" fill="none" stroke="#4a34a0" stroke-width="0.75"/><circle cx="351.3" cy="274.3" r="1.6" fill="none" stroke="#4a34a0" stroke-width="0.75"/><circle cx="353.5" cy="274.7" r="1.6" fill="none" stroke="#4a34a0" stroke-width="0.75"/><circle cx="355.3" cy="273.9" r="1.6" fill="none" stroke="#4a34a0" stroke-width="0.75"/><circle cx="357.6" cy="274.0" r="1.6" fill="none" stroke="#4a34a0" stroke-width="0.75"/><circle cx="359.3" cy="274.8" r="1.6" fill="none" stroke="#4a34a0" stroke-width="0.75"/><circle cx="361.4" cy="274.7" r="1.6" fill="none" stroke="#4a34a0" stroke-width="0.75"/><circle cx="363.7" cy="274.7" r="1.6" fill="none" stroke="#4a34a0" stroke-width="0.75"/><circle cx="365.7" cy="274.6" r="1.6" fill="none" stroke="#4a34a0" stroke-width="0.75"/><circle cx="367.2" cy="274.4" r="1.6" fill="none" stroke="#4a34a0" stroke-width="0.75"/><circle cx="369.6" cy="274.5" r="1.6" fill="none" stroke="#4a34a0" stroke-width="0.75"/><circle cx="371.4" cy="274.2" r="1.6" fill="none" stroke="#4a34a0" stroke-width="0.75"/><circle cx="373.2" cy="274.4" r="1.6" fill="none" stroke="#4a34a0" stroke-width="0.75"/><circle cx="375.4" cy="274.4" r="1.6" fill="none" stroke="#4a34a0" stroke-width="0.75"/><circle cx="377.6" cy="274.6" r="1.6" fill="none" stroke="#4a34a0" stroke-width="0.75"/><circle cx="379.8" cy="274.5" r="1.6" fill="none" stroke="#4a34a0" stroke-width="0.75"/><circle cx="381.8" cy="274.9" r="1.6" fill="none" stroke="#4a34a0" stroke-width="0.75"/><circle cx="383.6" cy="274.8" r="1.6" fill="none" stroke="#4a34a0" stroke-width="0.75"/><circle cx="385.7" cy="274.7" r="1.6" fill="none" stroke="#4a34a0" stroke-width="0.75"/><circle cx="387.6" cy="274.5" r="1.6" fill="none" stroke="#4a34a0" stroke-width="0.75"/><circle cx="389.5" cy="274.9" r="1.6" fill="none" stroke="#4a34a0" stroke-width="0.75"/><circle cx="391.2" cy="274.5" r="1.6" fill="none" stroke="#4a34a0" stroke-width="0.75"/><circle cx="393.4" cy="274.3" r="1.6" fill="none" stroke="#4a34a0" stroke-width="0.75"/><circle cx="395.7" cy="274.8" r="1.6" fill="none" stroke="#4a34a0" stroke-width="0.75"/><circle cx="397.4" cy="275.0" r="1.6" fill="none" stroke="#4a34a0" stroke-width="0.75"/><circle cx="399.4" cy="275.2" r="1.6" fill="none" stroke="#4a34a0" stroke-width="0.75"/><circle cx="401.2" cy="275.0" r="1.6" fill="none" stroke="#4a34a0" stroke-width="0.75"/><circle cx="403.6" cy="275.1" r="1.6" fill="none" stroke="#4a34a0" stroke-width="0.75"/><circle cx="405.7" cy="275.3" r="1.6" fill="none" stroke="#4a34a0" stroke-width="0.75"/><circle cx="407.7" cy="275.0" r="1.6" fill="none" stroke="#4a34a0" stroke-width="0.75"/><circle cx="409.6" cy="275.1" r="1.6" fill="none" stroke="#4a34a0" stroke-width="0.75"/><circle cx="411.5" cy="274.6" r="1.6" fill="none" stroke="#4a34a0" stroke-width="0.75"/><circle cx="413.3" cy="275.3" r="1.6" fill="none" stroke="#4a34a0" stroke-width="0.75"/><circle cx="415.5" cy="275.4" r="1.6" fill="none" stroke="#4a34a0" stroke-width="0.75"/><circle cx="417.2" cy="274.8" r="1.6" fill="none" stroke="#4a34a0" stroke-width="0.75"/><circle cx="419.3" cy="274.8" r="1.6" fill="none" stroke="#4a34a0" stroke-width="0.75"/><circle cx="421.7" cy="275.1" r="1.6" fill="none" stroke="#4a34a0" stroke-width="0.75"/><circle cx="423.6" cy="275.4" r="1.6" fill="none" stroke="#4a34a0" stroke-width="0.75"/>
<rect x="381.1" y="196.4" width="35" height="11.7" fill="#fff" stroke="#a3281e" stroke-width="1"/><line x1="381.6" x2="415.6" y1="197.86" y2="197.86" stroke="#a3281e" stroke-width="0.6"/><line x1="381.6" x2="415.6" y1="199.33" y2="199.33" stroke="#a3281e" stroke-width="0.6"/><line x1="381.6" x2="415.6" y1="200.79" y2="200.79" stroke="#a3281e" stroke-width="0.6"/><line x1="381.6" x2="415.6" y1="202.25" y2="202.25" stroke="#a3281e" stroke-width="0.6"/><line x1="381.6" x2="415.6" y1="203.71" y2="203.71" stroke="#a3281e" stroke-width="0.6"/><line x1="381.6" x2="415.6" y1="205.18" y2="205.18" stroke="#a3281e" stroke-width="0.6"/><line x1="381.6" x2="415.6" y1="206.64" y2="206.64" stroke="#a3281e" stroke-width="0.6"/><rect x="381.1" y="196.4" width="35" height="11.7" fill="#a3281e" fill-opacity="0.25"/><path d="M372.2 202.2H381.1M416.1 202.2H424.6M376.5 198.2L372.2 202.2L376.5 206.2M420.3 198.2L424.6 202.2L420.3 206.2" stroke="#a3281e" stroke-width="1.1" fill="none"/>
<rect x="381.1" y="224.2" width="35" height="11.7" fill="#fff" stroke="#4a34a0" stroke-width="1"/><line x1="383.00" x2="383.00" y1="224.2" y2="235.9" stroke="#4a34a0" stroke-width="0.6"/><line x1="384.60" x2="384.60" y1="224.2" y2="235.9" stroke="#4a34a0" stroke-width="0.6"/><line x1="386.20" x2="386.20" y1="224.2" y2="235.9" stroke="#4a34a0" stroke-width="0.6"/><line x1="387.80" x2="387.80" y1="224.2" y2="235.9" stroke="#4a34a0" stroke-width="0.6"/><line x1="389.40" x2="389.40" y1="224.2" y2="235.9" stroke="#4a34a0" stroke-width="0.6"/><line x1="391.00" x2="391.00" y1="224.2" y2="235.9" stroke="#4a34a0" stroke-width="0.6"/><line x1="392.60" x2="392.60" y1="224.2" y2="235.9" stroke="#4a34a0" stroke-width="0.6"/><line x1="394.20" x2="394.20" y1="224.2" y2="235.9" stroke="#4a34a0" stroke-width="0.6"/><line x1="395.80" x2="395.80" y1="224.2" y2="235.9" stroke="#4a34a0" stroke-width="0.6"/><line x1="397.40" x2="397.40" y1="224.2" y2="235.9" stroke="#4a34a0" stroke-width="0.6"/><line x1="399.00" x2="399.00" y1="224.2" y2="235.9" stroke="#4a34a0" stroke-width="0.6"/><line x1="400.60" x2="400.60" y1="224.2" y2="235.9" stroke="#4a34a0" stroke-width="0.6"/><line x1="402.20" x2="402.20" y1="224.2" y2="235.9" stroke="#4a34a0" stroke-width="0.6"/><line x1="403.80" x2="403.80" y1="224.2" y2="235.9" stroke="#4a34a0" stroke-width="0.6"/><line x1="405.40" x2="405.40" y1="224.2" y2="235.9" stroke="#4a34a0" stroke-width="0.6"/><line x1="407.00" x2="407.00" y1="224.2" y2="235.9" stroke="#4a34a0" stroke-width="0.6"/><line x1="408.60" x2="408.60" y1="224.2" y2="235.9" stroke="#4a34a0" stroke-width="0.6"/><line x1="410.20" x2="410.20" y1="224.2" y2="235.9" stroke="#4a34a0" stroke-width="0.6"/><line x1="411.80" x2="411.80" y1="224.2" y2="235.9" stroke="#4a34a0" stroke-width="0.6"/><line x1="413.40" x2="413.40" y1="224.2" y2="235.9" stroke="#4a34a0" stroke-width="0.6"/><line x1="415.00" x2="415.00" y1="224.2" y2="235.9" stroke="#4a34a0" stroke-width="0.6"/><rect x="381.1" y="224.2" width="35" height="11.7" fill="#4a34a0" fill-opacity="0.25"/><path d="M372.2 230.0H381.1M416.1 230.0H424.6M376.5 226.0L372.2 230.0L376.5 234.0M420.3 226.0L424.6 230.0L420.3 234.0" stroke="#4a34a0" stroke-width="1.1" fill="none"/>
<path d="M263.0 184.8H433.2V322.2" stroke="#5a4aa8" stroke-width="0.9" fill="none"/>
<path d="M263.0 184.8V322.2H433.2" stroke="#222" stroke-width="1.1" fill="none"/>
<path d="M260.2 322.75h2.8M260.2 276.80h2.8M260.2 230.85h2.8M260.2 184.90h2.8M261.4 308.92h1.6M261.4 300.83h1.6M261.4 295.09h1.6M261.4 290.63h1.6M261.4 286.99h1.6M261.4 283.92h1.6M261.4 281.25h1.6M261.4 278.90h1.6M261.4 262.97h1.6M261.4 254.88h1.6M261.4 249.14h1.6M261.4 244.68h1.6M261.4 241.04h1.6M261.4 237.97h1.6M261.4 235.30h1.6M261.4 232.95h1.6M261.4 217.02h1.6M261.4 208.93h1.6M261.4 203.19h1.6M261.4 198.73h1.6M261.4 195.09h1.6M261.4 192.02h1.6M261.4 189.35h1.6M261.4 187.00h1.6M263.00 322.2v2.8M281.91 322.2v2.8M300.82 322.2v2.8M319.73 322.2v2.8M338.64 322.2v2.8M357.55 322.2v2.8M376.46 322.2v2.8M395.37 322.2v2.8M414.28 322.2v2.8M433.19 322.2v2.8M272.45 322.2v1.6M291.37 322.2v1.6M310.27 322.2v1.6M329.19 322.2v1.6M348.10 322.2v1.6M367.00 322.2v1.6M385.92 322.2v1.6M404.82 322.2v1.6M423.74 322.2v1.6" stroke="#222" stroke-width="0.8" fill="none"/>
<text x="259.50" y="187.90" font-size="8.6" text-anchor="end" fill="#1a1a1a" >100</text>
<text x="259.50" y="233.85" font-size="8.6" text-anchor="end" fill="#1a1a1a" >10</text>
<text x="259.50" y="279.80" font-size="8.6" text-anchor="end" fill="#1a1a1a" >1</text>
<text x="259.50" y="325.75" font-size="8.6" text-anchor="end" fill="#1a1a1a" >0,1</text>
<text x="263.00" y="334.00" font-size="9.3" text-anchor="middle" fill="#1a1a1a" >20</text>
<text x="281.91" y="334.00" font-size="9.3" text-anchor="middle" fill="#1a1a1a" >22</text>
<text x="300.82" y="334.00" font-size="9.3" text-anchor="middle" fill="#1a1a1a" >24</text>
<text x="319.73" y="334.00" font-size="9.3" text-anchor="middle" fill="#1a1a1a" >26</text>
<text x="338.64" y="334.00" font-size="9.3" text-anchor="middle" fill="#1a1a1a" >28</text>
<text x="357.55" y="334.00" font-size="9.3" text-anchor="middle" fill="#1a1a1a" >30</text>
<text x="376.46" y="334.00" font-size="9.3" text-anchor="middle" fill="#1a1a1a" >32</text>
<text x="395.37" y="334.00" font-size="9.3" text-anchor="middle" fill="#1a1a1a" >34</text>
<text x="414.28" y="334.00" font-size="9.3" text-anchor="middle" fill="#1a1a1a" >36</text>
<text x="433.19" y="334.00" font-size="9.3" text-anchor="middle" fill="#1a1a1a" >38</text>
<rect x="357.2" y="280.3" width="72.3" height="38.5" fill="#fff" stroke="#888" stroke-width="0.8"/>
<circle cx="366.6" cy="285.8" r="1.45" fill="#a3281e"/>
<text x="377.60" y="288.40" font-size="7.9" text-anchor="start" fill="#1a1a1a" >E', longitudinal</text>
<circle cx="366.6" cy="295.0" r="1.55" fill="none" stroke="#a3281e" stroke-width="0.7"/>
<text x="377.60" y="297.60" font-size="7.9" text-anchor="start" fill="#1a1a1a" >E", longitudinal</text>
<circle cx="366.6" cy="304.3" r="1.45" fill="#2a1a80"/>
<text x="377.60" y="306.90" font-size="7.9" text-anchor="start" fill="#1a1a1a" >E', transverse</text>
<circle cx="366.6" cy="313.5" r="1.55" fill="none" stroke="#4a34a0" stroke-width="0.7"/>
<text x="377.60" y="316.10" font-size="7.9" text-anchor="start" fill="#1a1a1a" >E", transverse</text>
<text x="288.60" y="353.90" font-size="15.5" text-anchor="start" fill="#1a1a1a" >Temperature [°C]</text>
<text transform="translate(238.30,310.40) rotate(-90)" font-size="15.5" text-anchor="start" fill="#1a1a1a" >Log E', E" [MPa]</text>
<text x="6.00" y="365.00" font-size="22" text-anchor="start" font-weight="bold" fill="#000" >e</text>
<g clip-path="url(#cE)">
<rect x="24.2" y="376.2" width="147.7" height="125.5" fill="#251a50"/>
<rect x="24.2" y="376.2" width="147.7" height="125.5" fill="#000" filter="url(#nz1)"/>
<rect x="24.2" y="376.2" width="147.7" height="125.5" fill="#000" filter="url(#nz2)"/>
<ellipse cx="98.3" cy="438.4" rx="38" ry="34" fill="url(#glow)"/>
<path d="M98.3 417.4L122.5 438.4L98.3 459L74.1 438.4Z" fill="url(#halo)" filter="url(#blur2)"/>
<rect x="24.2" y="376.2" width="147.7" height="125.5" fill="#000" filter="url(#nz3)" opacity="0.7"/>
<ellipse cx="98.3" cy="438.8" rx="7" ry="12.5" fill="url(#core)" filter="url(#blur1)"/>
<ellipse cx="98.3" cy="438.4" rx="2.8" ry="5.8" fill="#f0c020" filter="url(#blur1)"/>
<ellipse cx="98.3" cy="438.4" rx="1.8" ry="3.6" fill="#e06020"/>
<circle cx="98.4" cy="438.4" r="2.6" fill="#1a0a20"/>
<path d="M98.4 438.4L124.8 476.5L126.5 501.7" stroke="#120a18" stroke-width="2.0" fill="none"/>
<rect x="24.2" y="376.2" width="8.7" height="125.5" fill="#140f16"/>
<rect x="125.4" y="376.2" width="8.7" height="125.5" fill="#140f16"/>
</g>
<path d="M171.9 495.2h1.8M171.9 485.9h1.8M171.9 476.6h3M171.9 467.3h1.8M171.9 458.0h1.8M171.9 448.7h1.8M171.9 439.4h3M171.9 430.1h1.8M171.9 420.8h1.8M171.9 411.5h1.8M171.9 402.2h3M171.9 392.9h1.8M171.9 383.6h1.8M164.8 501.7v1.8M153.8 501.7v1.8M142.7 501.7v3M131.7 501.7v1.8M120.6 501.7v1.8M109.5 501.7v1.8M98.5 501.7v3M87.5 501.7v1.8M76.4 501.7v1.8M65.3 501.7v1.8M54.3 501.7v3M43.2 501.7v1.8M32.2 501.7v1.8" stroke="#999" stroke-width="0.7"/>
<text x="177.60" y="405.40" font-size="9.6" text-anchor="start" fill="#1a1a1a" >1</text>
<text x="177.60" y="442.40" font-size="9.6" text-anchor="start" fill="#1a1a1a" >0</text>
<text x="177.60" y="481.40" font-size="9.6" text-anchor="start" fill="#1a1a1a" >-1</text>
<text x="54.70" y="513.00" font-size="9.6" text-anchor="middle" fill="#1a1a1a" >1</text>
<text x="98.60" y="514.60" font-size="9.6" text-anchor="middle" fill="#1a1a1a" >0</text>
<text x="140.60" y="516.00" font-size="9.6" text-anchor="middle" fill="#1a1a1a" >-1</text>
<text x="174.9" y="377.5" font-size="13.4" fill="#1a1a1a">q<tspan font-size="6.5" dy="2.9" dx="0.3">x</tspan><tspan dx="0.8" dy="-2.9">,</tspan><tspan dx="0.6"> nm</tspan><tspan font-size="5.6" dx="1" dy="-6.9">-1</tspan></text>
<text x="16.9" y="530.9" font-size="13.4" fill="#1a1a1a">q<tspan font-size="6.5" dy="2.9" dx="0.3">y</tspan><tspan dx="0.8" dy="-2.9">,</tspan><tspan dx="0.6"> nm</tspan><tspan font-size="5.6" dx="1" dy="-6.9">-1</tspan></text>
<text x="229.70" y="364.40" font-size="22" text-anchor="start" font-weight="bold" fill="#000" >f</text>
<path d="M266.7 370.0H436.8V507.7" stroke="#9a90d0" stroke-width="0.9" fill="none"/>
<path d="M266.7 370.0V507.7H436.8" stroke="#333" stroke-width="1.1" fill="none"/>
<path d="M264.5 480.20h2.2M264.5 425.10h2.2M264.5 370.00h2.2M266.7 452.65h1.6M266.7 397.55h1.6M295.30 507.7v2.4M351.80 507.7v2.4M408.30 507.7v2.4M267.05 507.7v1.4M323.55 507.7v1.4M380.05 507.7v1.4M436.55 507.7v1.4" stroke="#333" stroke-width="0.8" fill="none"/>
<text transform="translate(262.30,368.60) rotate(-52)" font-size="10.7" text-anchor="end" fill="#1a1a1a" >1500</text>
<text transform="translate(262.30,423.70) rotate(-52)" font-size="10.7" text-anchor="end" fill="#1a1a1a" >1000</text>
<text transform="translate(262.30,478.80) rotate(-52)" font-size="10.7" text-anchor="end" fill="#1a1a1a" >500</text>
<text x="295.30" y="520.70" font-size="10.8" text-anchor="middle" fill="#1a1a1a" >0,00</text>
<text x="351.80" y="520.70" font-size="10.8" text-anchor="middle" fill="#1a1a1a" >0,05</text>
<text x="408.30" y="520.70" font-size="10.8" text-anchor="middle" fill="#1a1a1a" >0,10</text>
<rect x="292.4" y="387.7" width="5.8" height="5.8" fill="#432a88"/>
<rect x="294.1" y="425.4" width="5.8" height="5.8" fill="#432a88"/>
<rect x="369.2" y="463.4" width="5.8" height="5.8" fill="#432a88"/>
<rect x="376.0" y="464.7" width="5.8" height="5.8" fill="#432a88"/>
<rect x="382.7" y="465.9" width="5.8" height="5.8" fill="#432a88"/>
<rect x="394.3" y="478.0" width="5.8" height="5.8" fill="#432a88"/>
<rect x="405.8" y="491.2" width="5.8" height="5.8" fill="#432a88"/>
<text x="298.90" y="543.60" font-size="15.6" text-anchor="start" fill="#1a1a1a" >c(Ca2+) [mol/L]</text>
<text transform="translate(238.60,507.40) rotate(-90)" font-size="15.5" text-anchor="start" fill="#1a1a1a" >Swelling degree [%]</text></svg>
</body></html>
